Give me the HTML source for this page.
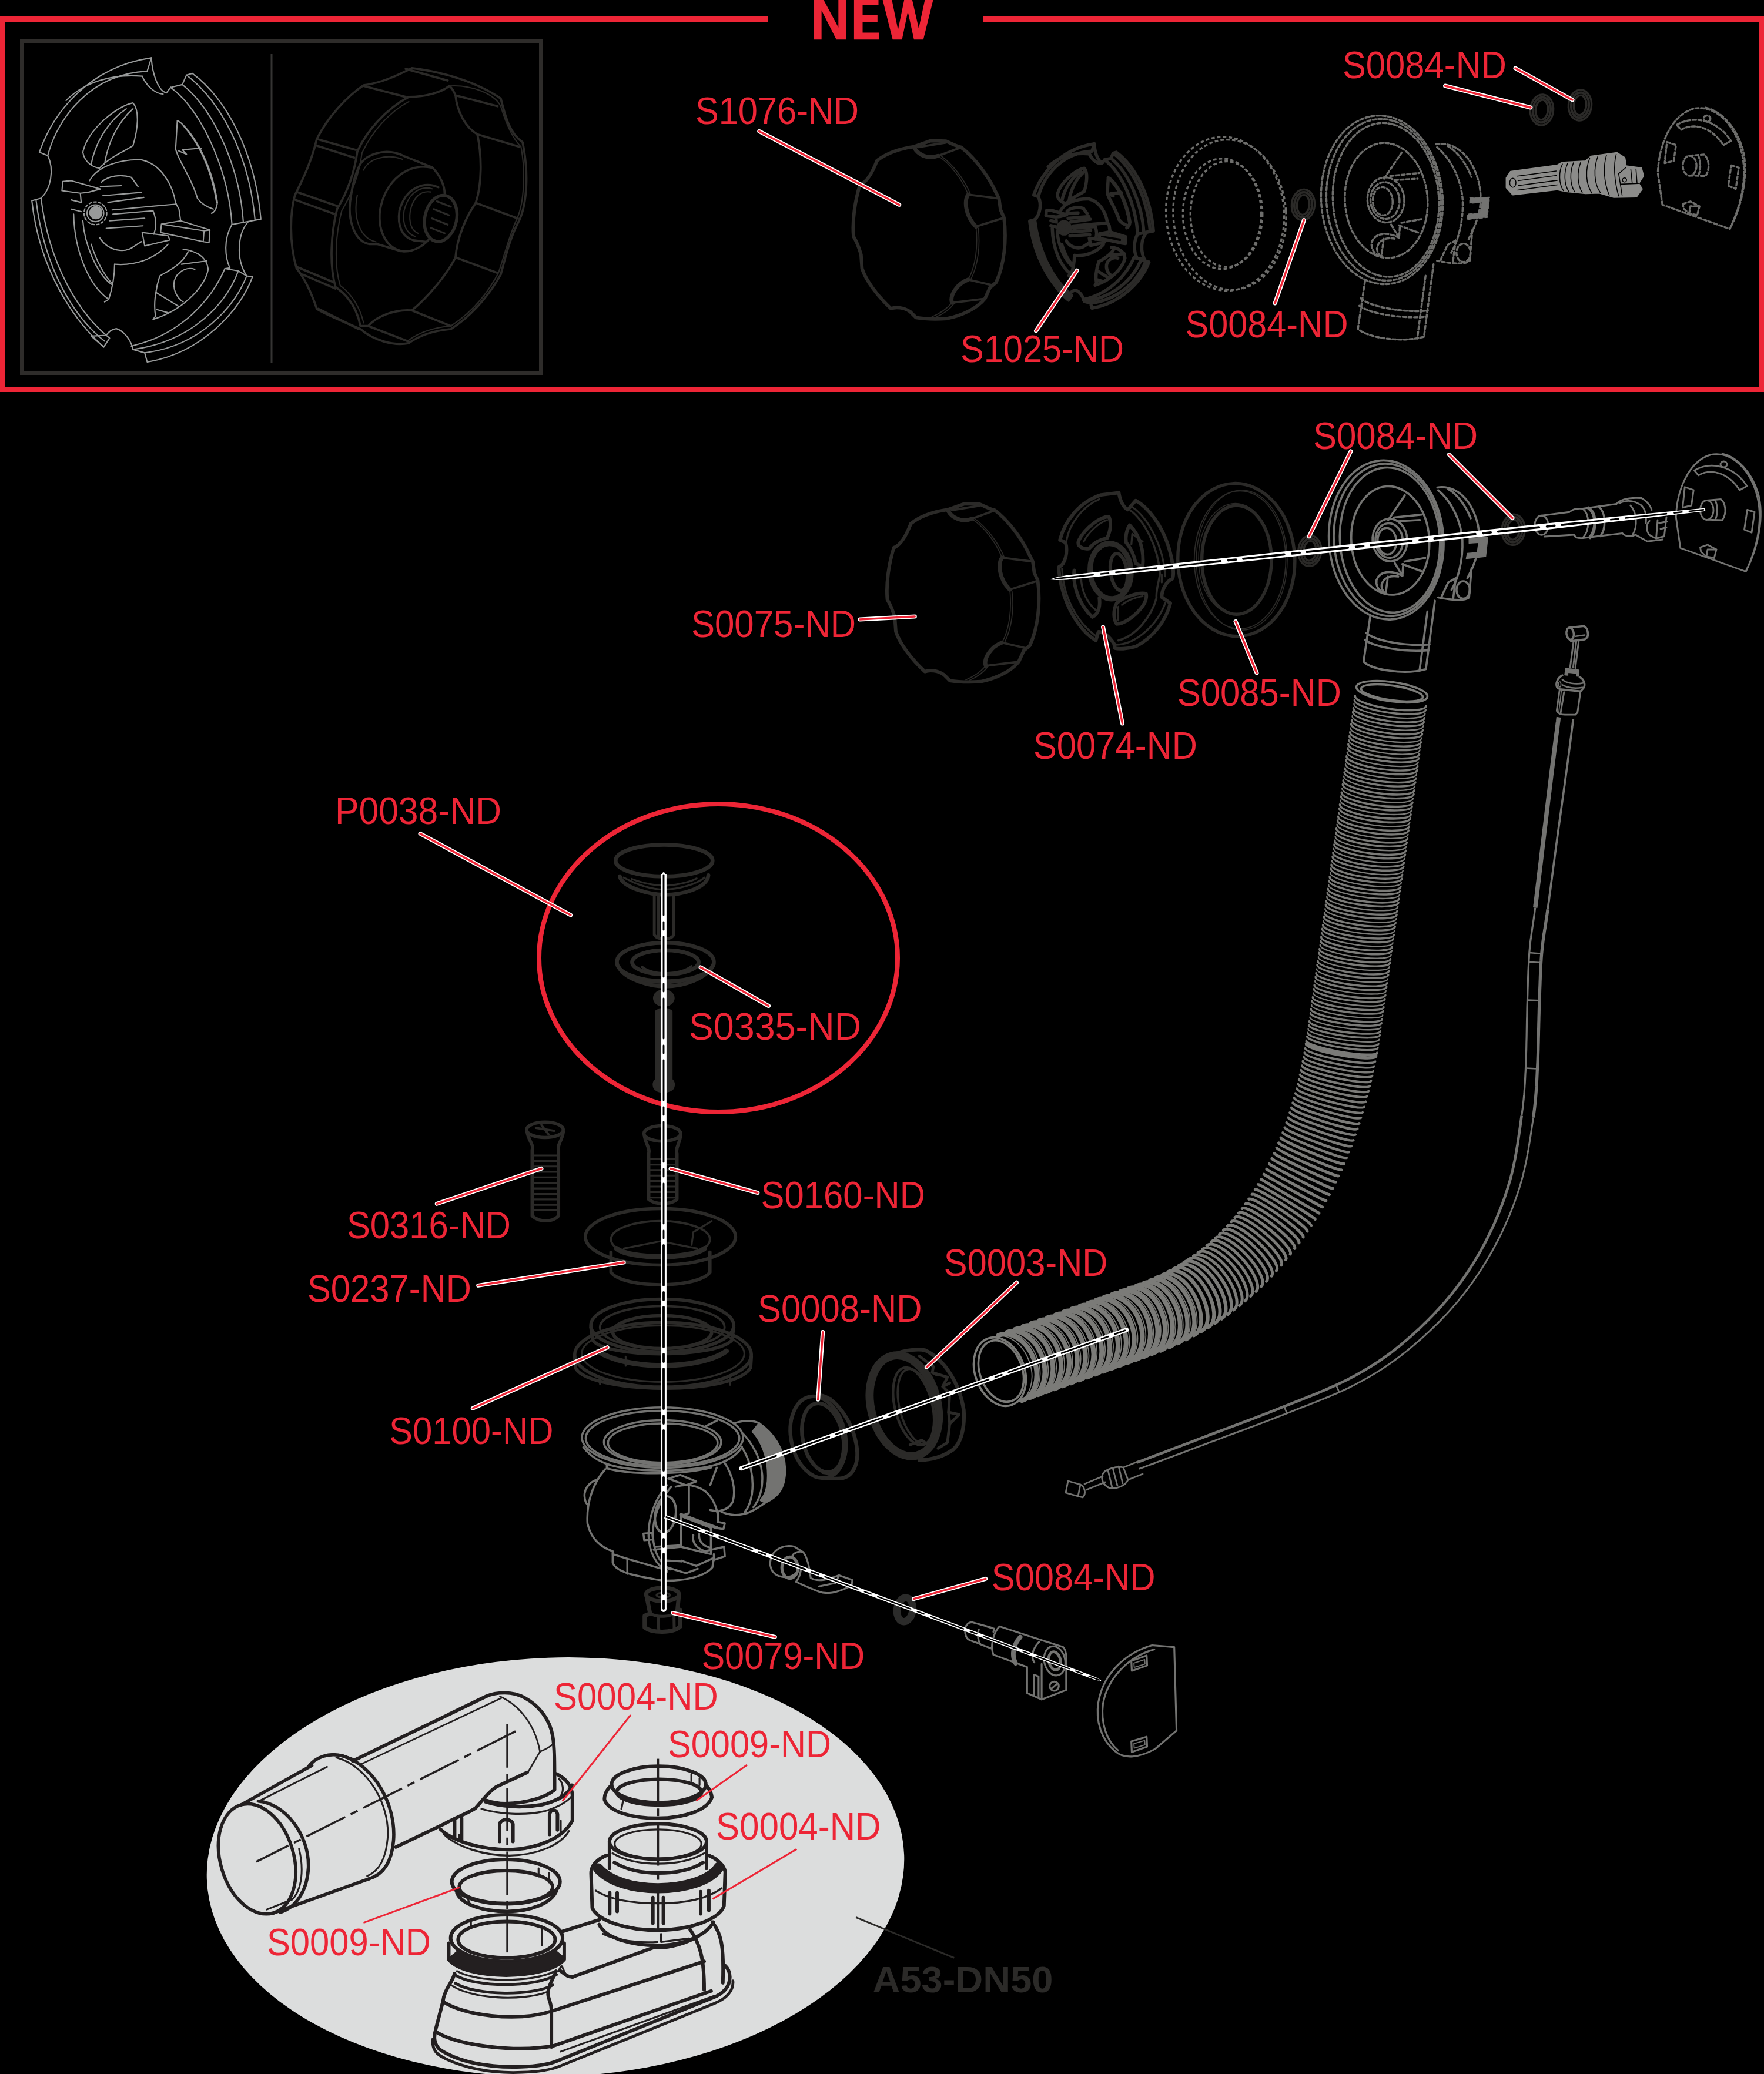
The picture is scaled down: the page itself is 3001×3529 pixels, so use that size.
<!DOCTYPE html>
<html><head><meta charset="utf-8"><title>Exploded view</title>
<style>
html,body{margin:0;padding:0;background:#000;}
body{width:3001px;height:3529px;overflow:hidden;}
svg{display:block;}
text{font-family:"Liberation Sans",sans-serif;}
.d{fill:none;stroke:#2d2d2d;stroke-width:5;stroke-linecap:round;stroke-linejoin:round;}
.d3{fill:none;stroke:#2d2d2d;stroke-width:3;stroke-linecap:round;stroke-linejoin:round;}
.g{fill:none;stroke:#7c7c7a;stroke-width:3;stroke-linecap:round;stroke-linejoin:round;}
.l{fill:none;stroke:#989a9a;stroke-width:2.2;stroke-linecap:round;stroke-linejoin:round;}
.k{fill:none;stroke:#231f20;stroke-width:4;stroke-linecap:round;stroke-linejoin:round;}
.lw{stroke:#fff;stroke-width:7;stroke-linecap:round;fill:none;}
.lr{stroke:#ed2536;stroke-width:3.4;stroke-linecap:round;fill:none;}
.t{fill:#ed2536;font-size:64px;}
.ovfill{fill:#737371;}
.sfill{fill:var(--sf);}
</style></head><body>
<svg width="3001" height="3529" viewBox="0 0 3001 3529">
<rect width="3001" height="3529" fill="#000"/>
<!-- 00_frame.svg -->
<g id="frame" fill="#ed2536">
<rect x="0" y="27.5" width="1307" height="10"/>
<rect x="1673" y="27.5" width="1328" height="10"/>
<rect x="0" y="27.5" width="9" height="639"/>
<rect x="2992" y="27.5" width="9" height="639"/>
<rect x="0" y="658" width="3001" height="9"/>
<g transform="translate(1370,0) scale(0.13038)"><path d="M108 515L108 -20L229.3 -20L432 358L432 -20L530 -20L530 515L405 515L212 135L212 515ZM636 -20L955 -20L955 65L748 65L748 198L942 198L942 285L748 285L748 425L965 425L965 515L636 515ZM1005 -20L1126 -20L1210 390L1294 -20L1391 -20L1480 370L1564 -20L1673 -20L1540 515L1418 515L1338 150L1262 515L1140 515Z"/></g>
</g>
<rect x="37.5" y="69.5" width="883" height="565" fill="none" stroke="#2e2c2a" stroke-width="7"/>
<line x1="462" y1="92" x2="462" y2="617" stroke="#353433" stroke-width="3"/>

<!-- 02_defs.svg -->
<defs>
<g id="knob" transform="scale(0.17007)" fill="none" stroke-linecap="round" stroke-linejoin="round">
<path stroke-width="34" d="M720 160L890 100L1040 105C1100 130 1150 160 1190 165C1300 250 1450 420 1540 620L1570 680L1585 790L1620 870C1650 1100 1620 1350 1540 1520L1480 1570L1430 1680C1350 1780 1200 1850 1050 1880C900 1890 800 1880 740 1870L680 1810C620 1770 540 1760 490 1780C350 1650 240 1500 200 1380L190 1240C170 1170 140 1100 115 1060C100 900 130 700 180 540C240 520 300 430 350 300C450 220 580 180 720 160Z"/>
<path stroke-width="40" d="M725 175C760 235 850 292 960 252M1262 640C1220 700 1230 850 1340 960M1262 1490C1150 1530 1075 1650 1100 1722"/>
<path stroke-width="22" d="M960 252L1190 168M1262 640L1572 680M1340 960L1620 872M1262 1490L1500 1545M1100 1722L1425 1682M760 165L1040 120"/>
<path stroke-width="10" d="M960 252C1080 330 1200 480 1262 640M985 248C1100 330 1220 480 1282 630M1340 960C1360 1150 1340 1350 1262 1490M1362 975C1385 1150 1360 1350 1285 1495M1100 1722C1050 1780 980 1830 900 1862M1125 1725C1080 1785 1010 1835 940 1865"/>
</g>
<g id="oring" fill="none">
<ellipse rx="15" ry="21.5" stroke="#2b2a28" stroke-width="12.5"/>
<ellipse rx="17.5" ry="24" stroke="#000" stroke-width="0.8"/>
<ellipse rx="13" ry="19" stroke="#000" stroke-width="0.8"/>
</g>
<g id="s85" transform="scale(0.17007)" fill="none">
<ellipse cx="725" cy="1015" rx="585" ry="765" stroke-width="32" transform="rotate(-2 725 1015)"/>
<ellipse cx="762" cy="1015" rx="458" ry="690" stroke-width="11"/>
<ellipse cx="780" cy="1018" rx="455" ry="700" stroke-width="9"/>
<ellipse cx="728" cy="1015" rx="348" ry="545" stroke-width="32"/>
<ellipse cx="715" cy="1005" rx="368" ry="555" stroke-width="9"/>
</g>
</defs>

<!-- 03_s1025def.svg -->
<defs>
<g id="s1025" fill="none" stroke-linecap="round" stroke-linejoin="round">
<path d="M130 700C210 470 420 190 800 135L775 215C440 230 240 490 180 720ZM290 390C400 280 560 230 745 245"/>
<path d="M800 135C805 230 840 330 890 345L915 312M745 245C770 300 820 350 870 352"/>
<path d="M915 312L985 295L1010 238L1045 228C1250 380 1420 700 1455 1100L1282 1132"/>
<path d="M1010 238C1220 400 1385 720 1420 1105M985 295C1180 450 1330 800 1350 1120M915 312C1100 450 1260 800 1282 1132"/>
<path d="M1380 1115C1320 1180 1300 1330 1370 1440L1405 1445M1282 1132C1230 1220 1240 1330 1270 1392L1240 1396L1320 1410L1370 1440"/>
<path d="M1405 1445C1330 1650 1100 1900 775 1955L760 1900L690 1880M1370 1440C1290 1640 1080 1860 760 1900M1320 1410C1250 1600 1050 1830 690 1880M1240 1396C1160 1580 980 1790 680 1860"/>
<path d="M690 1880C680 1830 640 1770 590 1755C560 1760 540 1780 530 1795L550 1812L515 1865L440 1800L530 1795"/>
<path d="M515 1865C330 1700 130 1400 85 990L140 975M110 985C160 1400 340 1690 520 1830M140 975C190 1380 370 1660 530 1795"/>
<path d="M140 975C200 920 220 800 180 720"/>
<path d="M690 405C600 420 420 560 390 700C400 760 450 790 490 795C560 720 650 690 690 660C720 560 730 450 690 405ZM650 440C560 500 470 620 440 770M690 440C600 520 540 640 520 770"/>
<path d="M955 510C1000 530 1150 700 1195 1000C1190 1040 1175 1060 1160 1065M955 510L945 680C960 750 1040 850 1075 975C1100 1010 1140 1030 1170 1040M960 690L1010 712L985 685L1100 675M990 540C1080 640 1160 800 1190 1000"/>
<path d="M990 1280C1060 1290 1130 1320 1140 1400C1120 1500 1000 1640 810 1700L825 1680C810 1600 830 1500 850 1440C880 1420 980 1380 1020 1295M935 1500C930 1430 1000 1380 1060 1400M935 1500C940 1560 980 1590 990 1595M830 1540L960 1620M830 1640L900 1660M980 1370L1130 1350"/>
<path d="M320 1040L380 1055M335 1070C340 1300 430 1500 545 1580L520 1595M545 1580C570 1500 580 1420 580 1370M390 1110C400 1250 470 1420 560 1490M440 1250C470 1350 520 1440 570 1490"/>
<path d="M430 870C480 780 620 740 740 745C860 770 930 900 945 1005L965 1040L975 1110M580 1370C700 1380 820 1340 900 1250M490 1210C540 1290 640 1310 700 1260L740 1235M500 880C540 840 620 830 680 850L720 905"/>
<path d="M270 875L320 870L495 920L420 940L375 945L265 930ZM375 945L380 1000L320 985"/>
<path d="M510 960L740 940M540 1000L755 970M565 1045L950 1010M570 1070L810 1050C830 1100 830 1150 815 1190M550 1110L760 1095M530 1155L750 1140M495 905L620 900"/>
<path d="M860 1130L975 1110L1150 1165L1145 1240L1110 1235L855 1180ZM1110 1235L1115 1170L1150 1165M1115 1170L860 1130M745 1180L900 1200L910 1225L760 1260Z"/>
<circle cx="465" cy="1065" r="68" stroke-dasharray="16 12"/>
<circle cx="465" cy="1065" r="50"/>
<circle cx="468" cy="1062" r="36" class="sfill"/>
</g>
</defs>
<g transform="translate(30,60) scale(0.28441)" stroke="#989a9a" stroke-width="7.6" style="--sf:#989a9a"><use href="#s1025"/></g>
<g transform="translate(1857,384.5) scale(0.54) translate(-249,-357) translate(30,60) scale(0.28441)" stroke="#2b2a28" stroke-width="36" style="--sf:#2b2a28"><use href="#s1025"/></g>

<!-- 04_bigknob.svg -->
<g transform="translate(470,80) scale(0.26518)" fill="none" stroke="#2b2a28" stroke-width="14" stroke-linecap="round" stroke-linejoin="round">
<path d="M870 135C1000 150 1250 200 1440 330C1470 450 1500 560 1580 610C1620 800 1610 1000 1560 1110C1500 1220 1470 1350 1440 1460C1350 1620 1230 1740 1120 1810C1000 1820 920 1850 850 1900C750 1920 620 1880 540 1810C430 1760 320 1720 260 1680C220 1560 180 1480 130 1420C80 1250 90 1050 120 950C180 830 230 720 260 590C330 450 450 320 560 245C680 230 780 180 870 135Z"/>
<path d="M850 320C960 320 1060 290 1110 250C1130 260 1140 290 1150 310C1160 420 1220 520 1290 560C1320 700 1320 880 1280 1000C1210 1100 1160 1230 1150 1350C1100 1450 980 1600 870 1690C760 1680 640 1730 590 1790L540 1790C520 1690 470 1600 380 1540C340 1400 350 1200 390 1040C450 940 500 820 520 670C580 540 700 400 850 320Z"/>
<path stroke-width="8" d="M850 350C720 420 610 550 550 680C530 830 480 950 420 1050C380 1200 370 1400 410 1530C490 1590 540 1680 560 1770M1110 250C1250 240 1400 300 1440 380C1470 480 1510 580 1570 640C1600 800 1590 1000 1545 1100C1490 1220 1460 1350 1425 1450C1340 1610 1230 1720 1120 1790C1000 1800 920 1830 850 1880"/>
<path d="M560 250L830 320M830 140L1100 215M1150 310L1420 380M1290 560L1560 640M1280 1000L1550 1100M1150 1350L1420 1450M870 1690L1120 1790M590 1790L850 1890M260 590L510 660M250 630L500 710M130 930L390 1020M120 980L370 1070M130 1410L370 1510M170 1460L380 1550M270 1680L530 1810"/>
<path d="M530 770C560 690 700 640 820 700L1000 772C1060 830 1080 900 1080 940M600 1265C500 1250 450 1100 480 950C490 880 510 810 530 770M600 1265L650 1265L800 1310"/>
<path stroke-width="8" d="M560 790C590 720 700 680 810 720M640 1250C540 1230 490 1100 520 950"/>
<path d="M1000 775C850 740 700 850 665 1050C650 1200 720 1300 820 1312C900 1312 960 1260 990 1222"/>
<path d="M1040 900C950 860 830 900 790 1050C775 1150 810 1220 880 1240L960 1250"/>
<path stroke-width="8" d="M1000 910C930 890 850 930 820 1050C805 1140 840 1200 890 1215M990 930C930 920 880 960 860 1050C848 1130 870 1180 910 1195"/>
<ellipse cx="1055" cy="1100" rx="102" ry="150" transform="rotate(12 1055 1100)" stroke-width="20"/>
<path stroke-width="12" d="M1010 1040L1110 1080M1000 1100L1100 1140M990 1160L1080 1195M1030 990L1120 1025"/>
</g>

<!-- 05_ellipse.svg -->
<ellipse cx="945" cy="3177" rx="593.5" ry="356.5" fill="#dcdddd" transform="rotate(-2 945 3177)"/>

<!-- 06_redcircle.svg -->
<ellipse cx="1222" cy="1630" rx="305" ry="262" fill="none" stroke="#ed2536" stroke-width="8"/>

<!-- 20_overflow.svg -->
<defs>
<g id="ovb" transform="translate(2220,760) scale(0.28345)" fill="none" stroke-linecap="round" stroke-linejoin="round">
<!-- back body -->
<path d="M795 245C860 235 930 260 985 340C1035 420 1060 520 1040 620C1025 690 1000 740 975 790"/>
<path d="M800 262C870 320 935 430 945 560C950 680 920 790 880 860"/>
<path d="M860 255C900 275 960 340 995 430"/>
<path d="M985 548L1098 545L1085 660L968 672L975 640L1040 635L1055 575L985 580Z" class="ovfill" stroke-width="5"/>
<path d="M1000 730L985 905C960 925 900 925 800 905"/>
<path d="M905 790L890 910"/>
<ellipse cx="950" cy="860" rx="40" ry="52"/>
<path d="M905 790L860 815L820 900"/>
<!-- neck -->
<path d="M392 1020L352 1290C400 1340 600 1372 726 1335L780 925"/>
<path d="M735 990L688 1345"/>
<path d="M368 1118C420 1165 600 1200 748 1188"/>
<path d="M360 1160C420 1205 600 1235 742 1222"/>
<!-- flange ellipses -->
<g transform="rotate(-4 490 560)">
<ellipse cx="488" cy="560" rx="344" ry="478" fill="#000"/>
<ellipse cx="498" cy="560" rx="324" ry="458"/>
<ellipse cx="510" cy="562" rx="300" ry="436"/>
<ellipse cx="512" cy="565" rx="234" ry="326"/>
<ellipse cx="510" cy="562" rx="104" ry="128"/>
<ellipse cx="505" cy="565" rx="82" ry="104"/>
<ellipse cx="492" cy="568" rx="56" ry="80"/>
</g>
<path d="M500 440L600 292M535 425L700 408M560 448L690 440"/>
<path d="M598 690L722 668M585 705L700 748"/>
<path d="M540 700L585 775L590 705"/>
<path d="M585 775C520 740 450 745 430 800C425 830 440 860 460 870"/>
<path d="M560 780C510 770 470 790 460 830C458 850 470 870 480 880"/>
<path d="M498 780L485 880"/>
</g>
<g id="plate" transform="translate(2560,760) scale(0.25)" fill="none" stroke-linecap="round" stroke-linejoin="round">
<!-- plate -->
<path d="M1195 690L1165 480C1170 300 1250 100 1400 55C1520 30 1640 120 1700 280C1760 440 1740 640 1640 850Z"/>
<path d="M1480 48C1580 70 1680 170 1725 320C1765 470 1730 680 1640 850"/>
<path d="M1290 162C1400 95 1560 130 1648 268L1598 296C1520 175 1400 145 1318 195Z"/>
<ellipse cx="1490" cy="120" rx="22" ry="20"/>
<path d="M1225 275L1285 295L1270 400L1210 415Z"/>
<path d="M1650 430L1700 445L1680 585L1630 565Z"/>
<path d="M1330 685L1380 668L1440 700L1425 758L1372 748L1335 715Z"/>
<path d="M1372 748L1380 700L1440 700"/>
<ellipse cx="1375" cy="432" rx="45" ry="66"/>
<path d="M1375 366L1470 358C1500 380 1515 450 1480 500L1385 497"/>
<path d="M1430 362C1450 400 1450 460 1432 498"/>
</g>
<g id="shaft" transform="translate(2560,760) scale(0.25)" fill="none" stroke-linecap="round" stroke-linejoin="round">
<!-- shaft -->
<ellipse cx="250" cy="535" rx="46" ry="66"/>
<path d="M245 470L440 445M270 612L470 600"/>
<path d="M440 445C470 420 500 420 530 422L760 390"/>
<path d="M470 600C480 620 500 625 530 622L800 590"/>
<path d="M530 422C580 460 580 570 530 622" />
<path d="M570 418C625 455 625 565 580 618" stroke-width="22"/>
<path d="M640 408C690 450 690 560 650 610" stroke-width="14"/>
<path d="M760 390C790 355 850 345 930 350C965 370 990 400 1000 430"/>
<path d="M780 385C830 360 880 365 930 400C960 430 965 470 960 520"/>
<path d="M800 590C830 620 870 610 890 600L970 645L1075 632"/>
<path d="M855 400C900 450 905 540 870 600"/>
<path d="M985 505C960 530 960 580 990 605L1030 625L1085 610L1100 480"/>
<path d="M1040 500L1030 625M1060 560L1100 550M1050 520L1105 510" />
</g>
</defs>
<g stroke="#737371" stroke-width="12.8" fill="none"><use href="#ovb"/></g>
<g stroke="#747472" stroke-width="11.5" fill="none"><use href="#plate"/><use href="#shaft"/></g>
<g stroke="#6e6e6c" stroke-width="11.5" fill="none" stroke-dasharray="19 13" stroke-linecap="butt"><use href="#ovb" transform="translate(2351,340) scale(1.06) translate(-2358.3,-918.7)"/></g>
<g stroke="#6e6e6c" stroke-width="13" fill="none" stroke-dasharray="22 15" stroke-linecap="butt"><use href="#plate" transform="translate(2893.8,286.6) scale(1.03) translate(-2922.5,-872.5)"/></g>
<g transform="translate(1960,180) scale(0.5901)" stroke-linejoin="round" stroke-linecap="round">
<path d="M1022 208L1034 190L1168 172L1182 164L1250 160L1266 146L1340 136L1362 150L1366 174L1410 180L1416 202L1402 224L1412 240L1396 262L1330 263L1290 251L1250 252L1190 246L1168 241L1040 256L1022 236Z" fill="#8c8c8a" stroke="#8c8c8a" stroke-width="5"/>
<g fill="none" stroke="#000" stroke-width="2.6">
<ellipse cx="1040" cy="222" rx="9" ry="13"/>
<path d="M1052 203L1165 188M1055 216L1166 201M1056 230L1168 215M1054 243L1168 228"/>
<path d="M1183 168C1172 190 1172 225 1186 245M1198 166C1187 190 1187 225 1201 247M1215 164C1204 190 1204 225 1218 248M1236 162C1225 190 1225 225 1240 250M1262 150C1248 185 1250 225 1268 252M1285 146C1272 180 1274 225 1292 250M1310 142C1300 175 1302 220 1318 258M1338 140C1330 170 1332 215 1345 260"/>
<path d="M1366 178L1345 196L1350 226L1402 224M1350 226L1355 258M1380 182L1384 222M1395 182L1398 222"/>
<circle cx="1362" cy="214" r="6"/>
</g>
</g>

<!-- 30_hose.svg -->
<g fill="none" stroke="#7b7b78" stroke-linecap="round">
<path stroke-width="1.8" d="M2023.2 2276.2C2039.5 2268.2 2041.1 2238.3 2026.9 2209.6C2012.7 2180.8 1988.0 2164.1 1971.7 2172.1M2009.7 2282.8C2026.8 2274.9 2029.9 2244.9 2016.5 2215.7C2003.1 2186.4 1978.3 2169.1 1961.2 2177.0M1995.5 2289.2C2013.6 2281.6 2018.1 2251.3 2005.6 2221.6C1993.1 2191.9 1968.3 2174.0 1950.1 2181.7M1980.7 2295.3C1999.8 2288.0 2005.8 2257.6 1994.2 2227.4C1982.6 2197.3 1957.7 2178.8 1938.6 2186.2M1965.9 2301.0C1985.9 2293.8 1993.2 2263.2 1982.2 2232.8C1971.3 2202.3 1946.2 2183.4 1926.2 2190.6M1952.1 2306.1C1972.9 2298.6 1980.8 2267.8 1969.8 2237.2C1958.8 2206.7 1933.0 2188.0 1912.3 2195.5M1938.3 2311.2C1959.8 2303.4 1968.4 2272.3 1957.4 2241.7C1946.3 2211.1 1919.9 2192.6 1898.4 2200.3M1924.5 2316.2C1946.6 2308.3 1955.5 2277.0 1944.5 2246.3C1933.5 2215.7 1906.6 2197.3 1884.5 2205.2M1910.7 2321.2C1932.7 2313.3 1941.7 2282.0 1930.7 2251.3C1919.6 2220.7 1892.8 2202.3 1870.7 2210.2M1896.8 2326.2C1918.9 2318.3 1927.9 2287.0 1916.8 2256.3C1905.8 2225.6 1878.9 2207.2 1856.9 2215.2M1883.0 2331.2C1905.1 2323.2 1914.0 2291.9 1903.0 2261.3C1892.0 2230.6 1865.1 2212.2 1843.0 2220.2M1869.2 2336.2C1891.3 2328.2 1900.2 2296.9 1889.2 2266.3C1878.1 2235.6 1851.3 2217.2 1829.2 2225.1M1855.3 2341.1C1877.4 2333.2 1886.4 2301.9 1875.3 2271.2C1864.3 2240.6 1837.5 2222.2 1815.4 2230.1M1841.5 2346.1C1863.6 2338.2 1872.5 2306.9 1861.5 2276.2C1850.5 2245.6 1823.6 2227.1 1801.5 2235.1M1827.7 2351.1C1849.8 2343.2 1858.7 2311.9 1847.7 2281.2C1836.6 2250.5 1809.8 2232.1 1787.7 2240.1M1813.9 2356.1C1835.9 2348.1 1844.9 2316.8 1833.8 2286.2C1822.8 2255.5 1796.0 2237.1 1773.9 2245.1M1800.0 2361.1C1822.1 2353.1 1831.0 2321.8 1820.0 2291.2C1809.0 2260.5 1782.1 2242.1 1760.1 2250.0M1786.2 2366.0C1808.3 2358.1 1817.2 2326.8 1806.2 2296.1C1795.1 2265.5 1768.3 2247.1 1746.2 2255.0M1772.4 2371.0C1794.4 2363.1 1803.4 2331.8 1792.3 2301.1C1781.3 2270.5 1754.5 2252.0 1732.4 2260.0M1758.5 2376.0C1780.6 2368.0 1789.6 2336.8 1778.5 2306.1C1767.5 2275.4 1740.6 2257.0 1718.6 2265.0M1744.7 2381.0C1766.8 2373.0 1775.7 2341.7 1764.7 2311.1C1753.6 2280.4 1726.8 2262.0 1704.7 2270.0M1730.9 2386.0C1752.9 2378.0 1761.9 2346.7 1750.9 2316.1C1739.8 2285.4 1713.0 2267.0 1690.9 2274.9"/>
<path stroke-width="2.4" d="M2424.3 1214.8C2423.2 1222.1 2395.4 1224.3 2362.0 1219.6C2328.6 1214.9 2302.4 1205.2 2303.5 1197.8M2421.4 1235.3C2420.4 1242.6 2392.5 1244.8 2359.1 1240.1C2325.8 1235.4 2299.6 1225.6 2300.6 1218.3M2418.5 1255.8C2417.5 1263.1 2389.6 1265.3 2356.2 1260.6C2322.9 1255.9 2296.7 1246.1 2297.7 1238.8M2415.6 1276.3C2414.6 1283.6 2386.7 1285.8 2353.4 1281.1C2320.0 1276.4 2293.8 1266.6 2294.8 1259.3M2412.7 1296.8C2411.7 1304.1 2383.8 1306.3 2350.5 1301.6C2317.1 1296.9 2290.9 1287.1 2291.9 1279.8M2409.9 1317.3C2408.8 1324.6 2381.0 1326.7 2347.6 1322.0C2314.2 1317.4 2288.0 1307.6 2289.1 1300.3M2407.0 1337.8C2405.9 1345.1 2378.1 1347.2 2344.7 1342.5C2311.3 1337.8 2285.1 1328.1 2286.2 1320.8M2404.1 1358.3C2403.1 1365.6 2375.2 1367.7 2341.8 1363.0C2308.5 1358.3 2282.3 1348.6 2283.3 1341.3M2401.2 1378.8C2400.2 1386.1 2372.3 1388.1 2339.0 1383.4C2305.6 1378.7 2279.4 1369.1 2280.4 1361.8M2398.3 1399.3C2397.3 1406.5 2369.4 1408.6 2336.1 1403.9C2302.7 1399.2 2276.5 1389.5 2277.5 1382.3M2395.4 1419.8C2394.4 1427.0 2366.6 1429.0 2333.2 1424.3C2299.8 1419.6 2273.6 1410.0 2274.6 1402.8M2392.6 1440.3C2391.5 1447.4 2363.7 1449.4 2330.3 1444.8C2297.0 1440.1 2270.7 1430.5 2271.7 1423.3M2389.7 1460.8C2388.7 1467.9 2360.8 1469.9 2327.5 1465.2C2294.1 1460.5 2267.9 1450.9 2268.9 1443.8M2386.8 1481.3C2385.8 1488.3 2357.9 1490.3 2324.6 1485.6C2291.2 1480.9 2265.0 1471.3 2266.0 1464.3M2383.9 1501.8C2382.9 1508.8 2355.1 1510.6 2321.7 1506.0C2288.4 1501.3 2262.1 1491.8 2263.1 1484.8M2381.0 1522.3C2380.0 1529.2 2352.2 1531.0 2318.9 1526.3C2285.5 1521.6 2259.2 1512.2 2260.2 1505.3M2378.1 1542.8C2377.2 1549.6 2349.3 1551.4 2316.0 1546.7C2282.6 1542.0 2256.4 1532.6 2257.3 1525.8M2375.3 1563.3C2374.3 1570.0 2346.5 1571.7 2313.1 1567.0C2279.8 1562.3 2253.5 1553.0 2254.4 1546.3M2372.4 1583.8C2371.4 1590.4 2343.6 1592.0 2310.3 1587.3C2276.9 1582.6 2250.6 1573.4 2251.6 1566.8M2369.5 1604.3C2368.6 1610.8 2340.8 1612.3 2307.4 1607.6C2274.1 1602.9 2247.8 1593.8 2248.7 1587.3M2366.6 1624.8C2365.7 1631.2 2337.9 1632.6 2304.6 1627.9C2271.2 1623.2 2244.9 1614.2 2245.8 1607.8M2363.7 1645.3C2362.8 1651.6 2335.1 1652.8 2301.7 1648.1C2268.3 1643.5 2242.0 1634.6 2242.9 1628.3M2360.8 1665.8C2360.0 1671.9 2332.2 1673.1 2298.9 1668.4C2265.5 1663.7 2239.2 1654.9 2240.0 1648.8M2357.9 1686.3C2357.1 1692.2 2329.4 1693.3 2296.0 1688.6C2262.7 1683.9 2236.3 1675.2 2237.1 1669.3M2355.1 1706.8C2354.2 1712.6 2326.5 1713.5 2293.2 1708.8C2259.8 1704.1 2233.4 1695.6 2234.3 1689.8M2352.2 1727.3C2351.4 1732.9 2323.7 1733.6 2290.3 1728.9C2257.0 1724.2 2230.6 1715.9 2231.4 1710.3M2349.3 1747.8C2348.5 1753.2 2320.9 1753.7 2287.5 1749.1C2254.2 1744.4 2227.7 1736.2 2228.5 1730.8M2346.3 1768.8C2345.5 1774.0 2317.9 1774.1 2284.5 1769.1C2251.2 1764.1 2224.9 1755.9 2225.6 1750.7M2342.7 1790.4C2341.8 1795.4 2314.3 1794.8 2281.2 1789.1C2248.0 1783.4 2221.8 1774.9 2222.7 1769.9"/>
<path stroke-width="3.4" d="M2426.2 1201.3C2425.1 1208.7 2397.3 1210.8 2363.9 1206.1C2330.5 1201.4 2304.3 1191.7 2305.4 1184.3M2425.3 1207.9C2424.2 1215.2 2396.3 1217.4 2363.0 1212.7C2329.6 1208.0 2303.4 1198.2 2304.4 1190.9M2423.3 1221.8C2422.3 1229.2 2394.4 1231.3 2361.0 1226.6C2327.7 1221.9 2301.4 1212.2 2302.5 1204.8M2422.4 1228.4C2421.3 1235.7 2393.5 1237.9 2360.1 1233.2C2326.7 1228.5 2300.5 1218.7 2301.6 1211.4M2420.4 1242.3C2419.4 1249.7 2391.5 1251.8 2358.1 1247.1C2324.8 1242.4 2298.6 1232.7 2299.6 1225.3M2419.5 1248.9C2418.5 1256.2 2390.6 1258.4 2357.2 1253.7C2323.9 1249.0 2297.6 1239.2 2298.7 1231.9M2417.5 1262.8C2416.5 1270.2 2388.6 1272.3 2355.3 1267.6C2321.9 1262.9 2295.7 1253.2 2296.7 1245.8M2416.6 1269.4C2415.6 1276.7 2387.7 1278.8 2354.3 1274.2C2321.0 1269.5 2294.8 1259.7 2295.8 1252.4M2414.6 1283.3C2413.6 1290.7 2385.7 1292.8 2352.4 1288.1C2319.0 1283.4 2292.8 1273.7 2293.8 1266.3M2413.7 1289.9C2412.7 1297.2 2384.8 1299.3 2351.4 1294.6C2318.1 1289.9 2291.9 1280.2 2292.9 1272.9M2411.8 1303.8C2410.7 1311.2 2382.8 1313.3 2349.5 1308.6C2316.1 1303.9 2289.9 1294.2 2290.9 1286.8M2410.8 1310.4C2409.8 1317.7 2381.9 1319.8 2348.6 1315.1C2315.2 1310.4 2289.0 1300.7 2290.0 1293.4M2408.9 1324.3C2407.8 1331.6 2380.0 1333.8 2346.6 1329.1C2313.2 1324.4 2287.0 1314.6 2288.1 1307.3M2408.0 1330.9C2406.9 1338.2 2379.0 1340.3 2345.7 1335.6C2312.3 1330.9 2286.1 1321.2 2287.1 1313.9M2406.0 1344.8C2405.0 1352.1 2377.1 1354.2 2343.7 1349.5C2310.4 1344.8 2284.2 1335.1 2285.2 1327.8M2405.1 1351.4C2404.0 1358.7 2376.2 1360.8 2342.8 1356.1C2309.4 1351.4 2283.2 1341.7 2284.3 1334.4M2403.1 1365.3C2402.1 1372.6 2374.2 1374.7 2340.8 1370.0C2307.5 1365.3 2281.3 1355.6 2282.3 1348.3M2402.2 1371.9C2401.2 1379.1 2373.3 1381.2 2339.9 1376.5C2306.6 1371.8 2280.4 1362.1 2281.4 1354.9M2400.2 1385.8C2399.2 1393.1 2371.3 1395.2 2338.0 1390.5C2304.6 1385.8 2278.4 1376.1 2279.4 1368.8M2399.3 1392.4C2398.3 1399.6 2370.4 1401.7 2337.0 1397.0C2303.7 1392.3 2277.5 1382.6 2278.5 1375.4M2397.3 1406.3C2396.3 1413.5 2368.5 1415.6 2335.1 1410.9C2301.7 1406.2 2275.5 1396.5 2276.5 1389.3M2396.4 1412.9C2395.4 1420.1 2367.5 1422.1 2334.2 1417.4C2300.8 1412.7 2274.6 1403.1 2275.6 1395.9M2394.5 1426.8C2393.4 1434.0 2365.6 1436.0 2332.2 1431.3C2298.9 1426.6 2272.6 1417.0 2273.6 1409.8M2393.5 1433.4C2392.5 1440.5 2364.7 1442.5 2331.3 1437.8C2297.9 1433.2 2271.7 1423.5 2272.7 1416.4M2391.6 1447.3C2390.6 1454.5 2362.7 1456.5 2329.3 1451.8C2296.0 1447.1 2269.8 1437.5 2270.8 1430.3M2390.6 1453.9C2389.6 1461.0 2361.8 1463.0 2328.4 1458.3C2295.1 1453.6 2268.8 1444.0 2269.8 1436.9M2388.7 1467.8C2387.7 1474.9 2359.8 1476.9 2326.5 1472.2C2293.1 1467.5 2266.9 1457.9 2267.9 1450.8M2387.8 1474.4C2386.8 1481.4 2358.9 1483.4 2325.6 1478.7C2292.2 1474.0 2266.0 1464.4 2267.0 1457.4M2385.8 1488.3C2384.8 1495.4 2357.0 1497.3 2323.6 1492.6C2290.2 1487.9 2264.0 1478.4 2265.0 1471.3M2384.9 1494.9C2383.9 1501.9 2356.0 1503.8 2322.7 1499.1C2289.3 1494.4 2263.1 1484.9 2264.1 1477.9M2382.9 1508.8C2381.9 1515.8 2354.1 1517.6 2320.7 1512.9C2287.4 1508.2 2261.1 1498.8 2262.1 1491.8M2382.0 1515.4C2381.0 1522.3 2353.2 1524.1 2319.8 1519.4C2286.5 1514.7 2260.2 1505.3 2261.2 1498.4M2380.0 1529.3C2379.1 1536.2 2351.2 1538.0 2317.9 1533.3C2284.5 1528.6 2258.2 1519.2 2259.2 1512.3M2379.1 1535.8C2378.1 1542.7 2350.3 1544.5 2317.0 1539.8C2283.6 1535.1 2257.3 1525.7 2258.3 1518.9M2377.1 1549.8C2376.2 1556.6 2348.4 1558.3 2315.0 1553.6C2281.6 1549.0 2255.4 1539.6 2256.3 1532.8M2376.2 1556.3C2375.3 1563.1 2347.5 1564.8 2314.1 1560.1C2280.7 1555.4 2254.5 1546.1 2255.4 1539.3M2374.3 1570.3C2373.3 1577.0 2345.5 1578.7 2312.1 1574.0C2278.8 1569.3 2252.5 1560.0 2253.5 1553.3M2373.3 1576.8C2372.4 1583.5 2344.6 1585.1 2311.2 1580.5C2277.9 1575.8 2251.6 1566.5 2252.5 1559.8M2371.4 1590.8C2370.4 1597.4 2342.6 1599.0 2309.3 1594.3C2275.9 1589.6 2249.6 1580.4 2250.6 1573.8M2370.5 1597.3C2369.5 1603.9 2341.7 1605.5 2308.4 1600.8C2275.0 1596.1 2248.7 1586.9 2249.6 1580.3M2368.5 1611.3C2367.6 1617.8 2339.8 1619.3 2306.4 1614.6C2273.1 1609.9 2246.8 1600.8 2247.7 1594.3M2367.6 1617.8C2366.7 1624.3 2338.9 1625.7 2305.5 1621.0C2272.2 1616.3 2245.9 1607.3 2246.8 1600.8M2365.6 1631.8C2364.7 1638.2 2336.9 1639.5 2303.6 1634.8C2270.2 1630.1 2243.9 1621.2 2244.8 1614.8M2364.7 1638.3C2363.8 1644.7 2336.0 1646.0 2302.7 1641.3C2269.3 1636.6 2243.0 1627.7 2243.9 1621.3M2362.7 1652.3C2361.8 1658.5 2334.1 1659.8 2300.7 1655.1C2267.4 1650.4 2241.0 1641.5 2241.9 1635.3M2361.8 1658.8C2360.9 1665.0 2333.2 1666.2 2299.8 1661.5C2266.5 1656.8 2240.1 1648.0 2241.0 1641.8M2359.8 1672.8C2359.0 1678.9 2331.2 1680.0 2297.9 1675.3C2264.5 1670.6 2238.2 1661.9 2239.0 1655.8M2358.9 1679.3C2358.1 1685.4 2330.3 1686.4 2297.0 1681.8C2263.6 1677.1 2237.3 1668.4 2238.1 1662.3M2357.0 1693.3C2356.1 1699.2 2328.4 1700.2 2295.0 1695.5C2261.7 1690.8 2235.3 1682.2 2236.1 1676.3M2356.0 1699.8C2355.2 1705.7 2327.5 1706.6 2294.1 1701.9C2260.8 1697.3 2234.4 1688.7 2235.2 1682.8M2354.1 1713.8C2353.3 1719.5 2325.6 1720.4 2292.2 1715.7C2258.8 1711.0 2232.5 1702.5 2233.3 1696.8M2353.2 1720.3C2352.4 1726.0 2324.7 1726.8 2291.3 1722.1C2257.9 1717.4 2231.5 1709.0 2232.3 1703.3M2351.2 1734.3C2350.4 1739.8 2322.7 1740.5 2289.4 1735.8C2256.0 1731.1 2229.6 1722.8 2230.4 1717.3M2350.3 1740.8C2349.5 1746.3 2321.8 1746.9 2288.5 1742.2C2255.1 1737.6 2228.7 1729.3 2229.5 1723.8M2348.3 1754.8C2347.6 1760.1 2319.9 1760.6 2286.5 1756.0C2253.2 1751.3 2226.7 1743.1 2227.5 1737.8M2347.4 1761.5C2346.6 1766.7 2319.0 1767.1 2285.6 1762.4C2252.3 1757.6 2225.8 1749.4 2226.6 1744.2M2345.1 1776.2C2344.3 1781.3 2316.7 1781.2 2283.4 1776.0C2250.1 1770.8 2223.8 1762.4 2224.6 1757.3M2344.0 1783.1C2343.2 1788.1 2315.6 1787.8 2282.4 1782.4C2249.1 1776.9 2222.8 1768.5 2223.7 1763.5"/>
<path stroke-width="3.5" d="M2341.3 1797.8C2340.4 1802.7 2312.9 1801.8 2279.9 1795.9C2246.9 1790.0 2220.8 1781.3 2221.6 1776.5M2339.7 1805.9C2338.8 1810.6 2311.4 1809.5 2278.5 1803.3C2245.6 1797.2 2219.6 1788.4 2220.5 1783.7M2338.0 1814.1C2337.1 1818.7 2309.8 1817.2 2277.0 1810.8C2244.2 1804.5 2218.3 1795.6 2219.2 1791.0M2336.3 1822.3C2335.3 1826.8 2308.1 1825.1 2275.4 1818.4C2242.7 1811.8 2217.0 1802.8 2217.9 1798.3"/>
<path stroke-width="4.0" d="M2334.4 1830.7C2333.5 1835.1 2306.3 1833.0 2273.7 1826.1C2241.2 1819.2 2215.5 1810.1 2216.4 1805.7M2332.4 1839.3C2331.5 1843.5 2304.4 1841.1 2272.0 1833.9C2239.5 1826.7 2214.0 1817.5 2214.9 1813.2M2330.3 1847.9C2329.4 1852.0 2302.4 1849.3 2270.1 1841.8C2237.8 1834.4 2212.4 1825.0 2213.3 1820.9M2328.2 1856.6C2327.2 1860.6 2300.3 1857.5 2268.2 1849.8C2236.0 1842.0 2210.7 1832.5 2211.7 1828.5M2325.8 1865.4C2324.9 1869.3 2298.1 1865.9 2266.1 1857.8C2234.1 1849.8 2208.9 1840.2 2209.9 1836.3M2323.4 1874.4C2322.4 1878.1 2295.8 1874.3 2264.0 1866.0C2232.1 1857.7 2207.0 1847.9 2208.0 1844.2M2320.8 1883.5C2319.9 1887.0 2293.4 1882.9 2261.7 1874.3C2230.0 1865.6 2205.0 1855.7 2206.0 1852.2M2318.1 1892.7C2317.2 1896.1 2290.8 1891.6 2259.3 1882.6C2227.7 1873.6 2202.9 1863.6 2203.9 1860.2M2315.3 1902.0C2314.3 1905.2 2288.1 1900.3 2256.8 1891.0C2225.4 1881.7 2200.7 1871.6 2201.7 1868.3M2342.3 1792.4C2341.5 1797.2 2314.0 1796.6 2280.8 1790.9C2247.7 1785.1 2221.6 1776.5 2222.4 1771.6M2341.5 1796.5C2340.7 1801.3 2313.2 1800.5 2280.1 1794.7C2247.1 1788.9 2221.0 1780.2 2221.8 1775.4"/>
<path stroke-width="4.5" d="M2312.3 1911.4C2311.4 1914.5 2285.3 1909.2 2254.1 1899.5C2222.9 1889.9 2198.4 1879.6 2199.4 1876.5M2309.2 1920.9C2308.2 1923.9 2282.3 1918.1 2251.3 1908.2C2220.3 1898.2 2196.0 1887.7 2196.9 1884.8M2305.8 1930.6C2304.9 1933.3 2279.2 1927.2 2248.4 1916.8C2217.6 1906.5 2193.4 1895.9 2194.3 1893.2M2302.3 1940.3C2301.4 1942.9 2275.9 1936.3 2245.3 1925.6C2214.7 1914.9 2190.7 1904.2 2191.6 1901.6M2298.7 1950.2C2297.8 1952.6 2272.5 1945.6 2242.1 1934.5C2211.7 1923.4 2187.8 1912.5 2188.7 1910.1M2294.8 1960.2C2294.0 1962.4 2268.8 1954.9 2238.7 1943.4C2208.6 1932.0 2184.8 1920.9 2185.6 1918.7M2290.7 1970.3C2289.9 1972.3 2265.0 1964.3 2235.1 1952.4C2205.2 1940.6 2181.6 1929.3 2182.4 1927.3"/>
<path stroke-width="5.0" d="M2286.4 1980.4C2285.7 1982.2 2261.0 1973.8 2231.4 1961.5C2201.8 1949.3 2178.3 1937.9 2179.1 1936.0M2281.9 1990.7C2281.2 1992.3 2256.9 1983.4 2227.5 1970.7C2198.1 1958.0 2174.8 1946.4 2175.5 1944.8M2277.2 2001.1C2276.6 2002.5 2252.5 1993.0 2223.4 1979.9C2194.3 1966.8 2171.2 1955.0 2171.8 1953.6M2272.2 2011.5C2271.7 2012.7 2247.9 2002.7 2219.0 1989.2C2190.2 1975.7 2167.3 1963.7 2167.9 1962.5M2267.0 2022.1C2266.5 2023.1 2243.0 2012.5 2214.5 1998.5C2186.0 1984.5 2163.3 1972.4 2163.8 1971.4M2261.5 2032.7C2261.1 2033.5 2238.0 2022.4 2209.8 2007.9C2181.6 1993.5 2159.0 1981.1 2159.4 1980.4M2255.8 2043.3C2255.5 2043.9 2232.7 2032.2 2204.8 2017.3C2177.0 2002.4 2154.6 1989.8 2154.9 1989.3M2249.9 2053.8C2249.7 2054.1 2227.3 2041.9 2199.8 2026.5C2172.3 2011.1 2150.1 1998.4 2150.3 1998.1M2243.8 2064.2C2243.7 2064.3 2221.7 2051.5 2194.5 2035.7C2167.4 2019.8 2145.4 2006.8 2145.5 2006.7M2237.4 2074.5C2237.9 2073.8 2216.5 2060.0 2189.7 2043.7C2163.0 2027.3 2141.0 2014.6 2140.5 2015.3M2230.9 2084.7C2231.9 2083.1 2211.4 2068.2 2185.0 2051.3C2158.6 2034.5 2136.4 2022.2 2135.4 2023.8M2224.1 2094.8C2225.7 2092.4 2205.9 2076.5 2180.0 2059.2C2154.0 2041.9 2131.7 2029.7 2130.2 2032.1M2217.2 2104.8C2219.3 2101.7 2200.3 2084.8 2174.8 2067.0C2149.3 2049.2 2126.8 2037.3 2124.7 2040.3M2210.0 2114.6C2212.6 2111.0 2194.4 2093.2 2169.4 2074.9C2144.3 2056.6 2121.8 2044.8 2119.1 2048.4M2202.6 2124.3C2205.8 2120.1 2188.4 2101.5 2163.8 2082.7C2139.2 2064.0 2116.6 2052.2 2113.4 2056.4M2195.1 2133.9C2198.8 2129.2 2182.3 2109.8 2158.0 2090.5C2133.8 2071.1 2111.1 2059.3 2107.4 2064.1M2187.4 2143.5C2191.8 2138.3 2176.0 2118.0 2152.1 2098.1C2128.3 2078.2 2105.5 2066.3 2101.1 2071.5M2179.6 2152.9C2184.5 2147.2 2169.5 2126.1 2146.1 2105.7C2122.6 2085.2 2099.6 2073.2 2094.7 2078.9M2171.5 2162.1C2177.0 2156.1 2162.8 2134.1 2139.8 2113.1C2116.8 2092.1 2093.7 2080.0 2088.2 2086.1M2163.1 2171.2C2169.3 2164.8 2156.0 2142.0 2133.5 2120.5C2110.9 2098.9 2087.6 2086.6 2081.5 2093.1M2154.6 2180.1C2161.4 2173.3 2149.0 2149.9 2126.9 2127.7C2104.8 2105.6 2081.4 2093.1 2074.6 2099.9M2145.8 2188.8C2153.3 2181.7 2141.8 2157.5 2120.2 2134.8C2098.6 2112.1 2075.1 2099.5 2067.6 2106.6M2136.8 2197.3C2145.0 2189.9 2134.5 2165.1 2113.4 2141.8C2092.3 2118.6 2068.6 2105.7 2060.5 2113.0M2127.6 2205.6C2136.4 2198.0 2126.9 2172.5 2106.4 2148.7C2085.8 2124.9 2062.0 2111.7 2053.2 2119.3M2118.2 2213.6C2127.7 2205.8 2119.2 2179.8 2099.2 2155.4C2079.2 2131.0 2055.3 2117.6 2045.8 2125.4M2108.6 2221.5C2118.8 2213.5 2111.3 2186.9 2091.9 2162.0C2072.5 2137.1 2048.4 2123.4 2038.2 2131.3M2098.8 2229.1C2109.7 2221.0 2103.3 2193.8 2084.4 2168.4C2065.6 2143.0 2041.5 2129.0 2030.5 2137.1"/>
<path stroke-width="5.5" d="M2088.8 2236.4C2100.4 2228.2 2095.1 2200.6 2076.8 2174.7C2058.6 2148.7 2034.4 2134.4 2022.7 2142.6"/>
<path stroke-width="6.0" d="M2078.3 2243.8C2090.7 2235.5 2086.5 2207.4 2068.9 2180.9C2051.3 2154.5 2026.9 2139.8 2014.5 2148.0M2067.3 2251.0C2080.5 2242.7 2077.5 2214.2 2060.5 2187.2C2043.6 2160.3 2019.2 2145.2 2006.0 2153.4M2055.8 2258.2C2069.8 2249.9 2068.0 2220.9 2051.8 2193.5C2035.5 2166.0 2011.0 2150.5 1997.0 2158.8"/>
<path stroke-width="6.5" d="M2043.7 2265.2C2058.6 2257.0 2058.0 2227.7 2042.5 2199.7C2027.0 2171.8 2002.5 2155.8 1987.6 2164.0M2031.0 2272.2C2046.8 2264.0 2047.6 2234.4 2032.9 2205.9C2018.2 2177.5 1993.5 2161.0 1977.8 2169.1"/>
<path stroke-width="7.0" d="M2017.8 2278.9C2034.4 2270.9 2036.6 2241.0 2022.7 2212.1C2008.9 2183.1 1984.1 2166.1 1967.5 2174.1M2004.0 2285.5C2021.5 2277.7 2025.2 2247.5 2012.1 2218.1C1999.1 2188.7 1974.3 2171.1 1956.7 2178.9"/>
<path stroke-width="7.5" d="M1989.5 2291.8C2008.0 2284.2 2013.2 2253.9 2001.0 2224.0C1988.8 2194.1 1964.0 2176.0 1945.5 2183.6"/>
<path stroke-width="8.0" d="M1974.4 2297.8C1993.9 2290.5 2000.6 2260.1 1989.3 2229.8C1978.1 2199.5 1953.2 2180.8 1933.7 2188.0M1960.1 2303.1C1980.4 2295.8 1988.0 2265.1 1977.0 2234.6C1966.1 2204.1 1940.7 2185.3 1920.3 2192.7M1946.3 2308.2C1967.4 2300.6 1975.6 2269.7 1964.6 2239.1C1953.6 2208.5 1927.6 2189.9 1906.5 2197.5M1932.5 2313.3C1954.4 2305.5 1963.2 2274.2 1952.1 2243.6C1941.1 2212.9 1914.4 2194.5 1892.6 2202.3M1918.7 2318.3C1940.8 2310.4 1949.7 2279.1 1938.7 2248.4C1927.7 2217.8 1900.8 2199.4 1878.7 2207.3M1904.9 2323.3C1927.0 2315.4 1935.9 2284.1 1924.9 2253.4C1913.8 2222.7 1887.0 2204.3 1864.9 2212.3M1891.1 2328.3C1913.1 2320.3 1922.1 2289.0 1911.0 2258.4C1900.0 2227.7 1873.2 2209.3 1851.1 2217.3M1877.2 2333.3C1899.3 2325.3 1908.2 2294.0 1897.2 2263.4C1886.2 2232.7 1859.3 2214.3 1837.3 2222.2M1863.4 2338.2C1885.5 2330.3 1894.4 2299.0 1883.4 2268.3C1872.3 2237.7 1845.5 2219.3 1823.4 2227.2M1849.6 2343.2C1871.6 2335.3 1880.6 2304.0 1869.5 2273.3C1858.5 2242.7 1831.7 2224.3 1809.6 2232.2M1835.7 2348.2C1857.8 2340.3 1866.8 2309.0 1855.7 2278.3C1844.7 2247.6 1817.8 2229.2 1795.8 2237.2M1821.9 2353.2C1844.0 2345.2 1852.9 2313.9 1841.9 2283.3C1830.8 2252.6 1804.0 2234.2 1781.9 2242.2M1808.1 2358.2C1830.1 2350.2 1839.1 2318.9 1828.1 2288.3C1817.0 2257.6 1790.2 2239.2 1768.1 2247.1M1794.2 2363.1C1816.3 2355.2 1825.3 2323.9 1814.2 2293.2C1803.2 2262.6 1776.3 2244.2 1754.3 2252.1M1780.4 2368.1C1802.5 2360.2 1811.4 2328.9 1800.4 2298.2C1789.4 2267.6 1762.5 2249.1 1740.4 2257.1M1766.6 2373.1C1788.6 2365.2 1797.6 2333.9 1786.6 2303.2C1775.5 2272.5 1748.7 2254.1 1726.6 2262.1M1752.7 2378.1C1774.8 2370.1 1783.8 2338.8 1772.7 2308.2C1761.7 2277.5 1734.8 2259.1 1712.8 2267.1M1738.9 2383.1C1761.0 2375.1 1769.9 2343.8 1758.9 2313.2C1747.9 2282.5 1721.0 2264.1 1698.9 2272.0"/>
<ellipse cx="2368.0" cy="1177.0" rx="61" ry="16.5" transform="rotate(8.0 2368.0 1177.0)" stroke-width="3.6" fill="#000"/>
<ellipse cx="2368.0" cy="1179.0" rx="53" ry="12.5" transform="rotate(8.0 2368.0 1179.0)" stroke-width="3.6"/>
<ellipse cx="1701.0" cy="2334.0" rx="42" ry="60" transform="rotate(160.2 1701.0 2334.0)" stroke-width="3.6" fill="#000"/>
<ellipse cx="1703.0" cy="2333.0" rx="36" ry="54" transform="rotate(160.2 1703.0 2333.0)" stroke-width="3.6"/>
</g>

<!-- 31_cable.svg -->
<g fill="none" stroke="#737371" stroke-linecap="butt" stroke-linejoin="round">
<path d="M2651.6 1220.4L2651.3 1222.5L2651.0 1224.9L2650.7 1227.5L2650.3 1230.3L2649.9 1233.4L2649.5 1236.7L2649.0 1240.2L2648.6 1243.8L2648.1 1247.7L2647.5 1251.7L2647.0 1255.9L2646.4 1260.2L2645.9 1264.7L2645.3 1269.2L2644.7 1273.9L2644.1 1278.7L2643.5 1283.5L2642.9 1288.4L2642.2 1293.4L2641.6 1298.4L2641.0 1303.5L2640.3 1308.9L2639.6 1314.4L2638.9 1320.1L2638.2 1326.0L2637.5 1332.0L2636.7 1338.1L2636.0 1344.4L2635.2 1350.7L2634.4 1357.1L2633.6 1363.6L2632.8 1370.1L2632.0 1376.6L2631.2 1383.2L2630.5 1389.7L2629.7 1396.2L2628.9 1402.6L2628.1 1409.0L2627.3 1415.3L2626.6 1421.5L2625.8 1427.8L2625.1 1434.1L2624.3 1440.5L2623.5 1447.0L2622.7 1453.5L2622.0 1460.1L2621.2 1466.7L2620.4 1473.3L2619.6 1479.8L2618.8 1486.3L2618.0 1492.7L2617.3 1499.1L2616.5 1505.3L2615.8 1511.5L2615.1 1517.5L2614.4 1523.3L2613.7 1528.9L2613.0 1534.4L2612.4 1539.6L2611.7 1544.6" stroke-width="7.5"/>
<path d="M2611.7 1544.6L2611.1 1549.3L2610.6 1553.7L2610.0 1557.9L2609.4 1561.9L2608.9 1565.7L2608.3 1569.4L2607.8 1572.9L2607.3 1576.3L2606.8 1579.6L2606.3 1582.8L2605.8 1586.1L2605.4 1589.3L2604.9 1592.5L2604.5 1595.7L2604.0 1599.0L2603.6 1602.4L2603.2 1605.9L2602.8 1609.5L2602.5 1613.2L2602.1 1617.1L2601.8 1621.0L2601.5 1625.0L2601.3 1628.9L2601.0 1632.9L2600.8 1636.8L2600.6 1640.7L2600.4 1644.7L2600.2 1648.7L2600.0 1652.8L2599.9 1656.8L2599.7 1661.0L2599.6 1665.2L2599.4 1669.4L2599.3 1673.7L2599.2 1678.1L2599.0 1682.6L2598.9 1687.2L2598.8 1691.9L2598.6 1696.7L2598.5 1701.6L2598.3 1706.8L2598.1 1712.2L2598.0 1717.7L2597.9 1723.4L2597.8 1729.3L2597.6 1735.3L2597.5 1741.4L2597.4 1747.5L2597.3 1753.7L2597.2 1759.9L2597.1 1766.1L2596.9 1772.3L2596.8 1778.4L2596.7 1784.4L2596.5 1790.3L2596.3 1796.1L2596.2 1801.8L2596.0 1807.2L2595.7 1812.5L2595.5 1817.5L2595.3 1822.3L2595.0 1826.9L2594.8 1831.4L2594.6 1835.6L2594.4 1839.7L2594.2 1843.6L2593.9 1847.4L2593.7 1851.2L2593.4 1854.9L2593.2 1858.6L2592.9 1862.2L2592.5 1865.9L2592.2 1869.5L2591.8 1873.3L2591.4 1877.2L2591.0 1881.1L2590.5 1885.2L2589.9 1889.5L2589.3 1893.9L2588.7 1898.6" stroke-width="3.2"/>
<path d="M2588.7 1898.6L2588.0 1903.5L2587.3 1908.6L2586.6 1913.7L2585.9 1919.0L2585.1 1924.4L2584.3 1929.9L2583.5 1935.5L2582.6 1941.1L2581.8 1946.8L2580.8 1952.5L2579.9 1958.2L2578.9 1963.9L2577.8 1969.7L2576.7 1975.4L2575.5 1981.0L2574.3 1986.6L2573.1 1992.2L2571.7 1997.7L2570.3 2003.1L2568.9 2008.4L2567.3 2013.6L2565.8 2018.9L2564.1 2024.2L2562.4 2029.4L2560.7 2034.7L2558.9 2039.9L2557.0 2045.1L2555.1 2050.3L2553.1 2055.5L2551.1 2060.6L2549.0 2065.8L2546.9 2070.9L2544.8 2076.0L2542.6 2081.1L2540.3 2086.1L2538.0 2091.1L2535.6 2096.1L2533.2 2101.1L2530.8 2106.0L2528.3 2110.9L2525.7 2115.8L2523.1 2120.7L2520.5 2125.5L2517.8 2130.3L2515.0 2135.1L2512.3 2139.9L2509.4 2144.6L2506.5 2149.4L2503.6 2154.1L2500.6 2158.7L2497.6 2163.4L2494.5 2168.0L2491.4 2172.6L2488.2 2177.1L2484.9 2181.7L2481.6 2186.2L2478.3 2190.6L2474.8 2195.1L2471.4 2199.5L2467.8 2203.9L2464.2 2208.3L2460.5 2212.7L2456.7 2217.1L2452.9 2221.4L2448.9 2225.8L2444.9 2230.2L2440.8 2234.5L2436.7 2238.8L2432.5 2243.1L2428.3 2247.3L2424.0 2251.5L2419.8 2255.7L2415.5 2259.8L2411.2 2263.8L2406.8 2267.7L2402.5 2271.6L2398.2 2275.5L2393.9 2279.2L2389.6 2282.8L2385.4 2286.4L2381.2 2289.9L2377.0 2293.2L2372.9 2296.5L2368.8 2299.7L2364.7 2302.8L2360.6 2305.8L2356.5 2308.7L2352.4 2311.6L2348.3 2314.5L2344.1 2317.3L2339.9 2320.0L2335.7 2322.8L2331.3 2325.5L2327.0 2328.1L2322.5 2330.8L2318.0 2333.4L2313.4 2336.1L2308.6 2338.7L2303.8 2341.4L2298.9 2344.0L2293.8 2346.7L2288.7 2349.2L2283.5 2351.8L2278.3 2354.3L2272.9 2356.8L2267.5 2359.2L2262.0 2361.7L2256.4 2364.1L2250.8 2366.5L2245.1 2368.9L2239.3 2371.3L2233.5 2373.6L2227.6 2376.0L2221.6 2378.4L2215.6 2380.8L2209.5 2383.3L2203.4 2385.7L2197.2 2388.2L2191.0 2390.7L2184.7 2393.2L2178.3 2395.7L2171.8 2398.3L2165.2 2400.9L2158.4 2403.6L2151.5 2406.2L2144.6 2408.9L2137.6 2411.6L2130.5 2414.3L2123.4 2417.0L2116.3 2419.7L2109.2 2422.3L2102.1 2425.0L2095.0 2427.7L2088.0 2430.3L2081.0 2432.9L2074.2 2435.5L2067.4 2438.0L2060.7 2440.5L2054.2 2443.0L2047.9 2445.4L2041.5 2447.8L2035.0 2450.3L2028.5 2452.8L2021.8 2455.3L2015.1 2457.8L2008.4 2460.4L2001.8 2462.9L1995.2 2465.4L1988.7 2467.9L1982.4 2470.3L1976.2 2472.6L1970.2 2474.9L1964.5 2477.0L1959.0 2479.1L1953.9 2481.1L1949.1 2482.9L1944.7 2484.6L1940.6 2486.1L1937.1 2487.4L1934.0 2488.6" stroke-width="4.6"/>
<path d="M2676.4 1223.6L2676.1 1225.7L2675.8 1228.0L2675.5 1230.6L2675.2 1233.5L2674.8 1236.5L2674.4 1239.8L2673.9 1243.3L2673.5 1247.0L2673.0 1250.9L2672.5 1254.9L2671.9 1259.1L2671.4 1263.4L2670.8 1267.9L2670.2 1272.4L2669.6 1277.1L2669.0 1281.9L2668.4 1286.7L2667.7 1291.6L2667.1 1296.6L2666.4 1301.6L2665.7 1306.7L2665.0 1312.1L2664.2 1317.6L2663.4 1323.3L2662.6 1329.2L2661.8 1335.2L2660.9 1341.3L2660.1 1347.5L2659.2 1353.9L2658.3 1360.2L2657.4 1366.7L2656.5 1373.2L2655.6 1379.7L2654.7 1386.2L2653.8 1392.7L2652.9 1399.2L2652.0 1405.6L2651.1 1412.0L2650.2 1418.3L2649.4 1424.5L2648.6 1430.7L2647.7 1437.0L2646.9 1443.4L2646.0 1449.8L2645.1 1456.4L2644.3 1462.9L2643.4 1469.5L2642.5 1476.0L2641.7 1482.6L2640.8 1489.1L2640.0 1495.5L2639.1 1501.8L2638.3 1508.1L2637.5 1514.2L2636.7 1520.2L2635.9 1526.0L2635.2 1531.7L2634.4 1537.1L2633.7 1542.4L2633.1 1547.4" stroke-width="3.6"/>
<path d="M2633.1 1547.4L2632.4 1552.2L2631.8 1556.7L2631.1 1561.0L2630.5 1565.0L2629.9 1568.9L2629.4 1572.6L2628.8 1576.1L2628.3 1579.5L2627.7 1582.8L2627.2 1586.0L2626.8 1589.2L2626.3 1592.3L2625.8 1595.4L2625.4 1598.5L2625.0 1601.7L2624.6 1604.9L2624.2 1608.2L2623.8 1611.6L2623.4 1615.2L2623.1 1618.9L2622.7 1622.7L2622.4 1626.6L2622.1 1630.4L2621.9 1634.2L2621.6 1638.0L2621.4 1641.9L2621.2 1645.8L2621.0 1649.7L2620.8 1653.6L2620.6 1657.7L2620.4 1661.7L2620.3 1665.9L2620.1 1670.1L2620.0 1674.4L2619.8 1678.8L2619.6 1683.3L2619.5 1687.9L2619.3 1692.6L2619.1 1697.4L2618.9 1702.4L2618.8 1707.4L2618.6 1712.7L2618.4 1718.3L2618.3 1723.9L2618.1 1729.8L2618.0 1735.7L2617.8 1741.8L2617.7 1747.9L2617.5 1754.1L2617.4 1760.3L2617.2 1766.6L2617.1 1772.7L2616.9 1778.9L2616.8 1785.0L2616.6 1790.9L2616.4 1796.8L2616.2 1802.5L2616.0 1808.0L2615.7 1813.4L2615.5 1818.5L2615.2 1823.3L2615.0 1828.0L2614.8 1832.4L2614.6 1836.6L2614.3 1840.8L2614.1 1844.8L2613.9 1848.7L2613.6 1852.5L2613.4 1856.3L2613.1 1860.1L2612.8 1863.8L2612.5 1867.6L2612.2 1871.5L2611.8 1875.4L2611.3 1879.4L2610.9 1883.5L2610.4 1887.7L2609.8 1892.1L2609.2 1896.6L2608.5 1901.4" stroke-width="5.2"/>
<path d="M2608.5 1901.4L2607.8 1906.3L2607.1 1911.4L2606.3 1916.5L2605.5 1921.9L2604.7 1927.3L2603.9 1932.9L2603.0 1938.5L2602.1 1944.2L2601.1 1950.0L2600.2 1955.8L2599.1 1961.6L2598.0 1967.5L2596.9 1973.4L2595.7 1979.2L2594.4 1985.1L2593.1 1990.9L2591.7 1996.7L2590.3 2002.4L2588.7 2008.1L2587.1 2013.6L2585.5 2019.1L2583.8 2024.6L2582.0 2030.0L2580.2 2035.4L2578.3 2040.8L2576.4 2046.2L2574.4 2051.5L2572.3 2056.9L2570.2 2062.2L2568.1 2067.5L2565.9 2072.8L2563.6 2078.0L2561.3 2083.2L2558.9 2088.4L2556.5 2093.6L2554.1 2098.8L2551.6 2103.9L2549.0 2109.0L2546.4 2114.0L2543.7 2119.1L2541.1 2124.1L2538.3 2129.0L2535.5 2134.0L2532.7 2138.9L2529.8 2143.8L2526.9 2148.7L2523.9 2153.5L2520.9 2158.3L2517.8 2163.1L2514.6 2167.9L2511.4 2172.7L2508.2 2177.4L2504.9 2182.1L2501.5 2186.7L2498.1 2191.4L2494.6 2196.0L2491.1 2200.5L2487.5 2205.1L2483.9 2209.6L2480.2 2214.1L2476.4 2218.6L2472.5 2223.0L2468.5 2227.5L2464.5 2232.0L2460.4 2236.4L2456.2 2240.8L2452.0 2245.2L2447.7 2249.6L2443.3 2253.9L2439.0 2258.2L2434.6 2262.4L2430.1 2266.6L2425.7 2270.7L2421.2 2274.8L2416.8 2278.8L2412.3 2282.7L2407.8 2286.6L2403.4 2290.3L2399.0 2294.0L2394.6 2297.6L2390.2 2301.1L2385.9 2304.5L2381.7 2307.8L2377.4 2311.0L2373.1 2314.2L2368.9 2317.3L2364.6 2320.3L2360.4 2323.2L2356.1 2326.1L2351.8 2329.0L2347.4 2331.8L2343.0 2334.5L2338.6 2337.3L2334.0 2340.0L2329.5 2342.6L2324.8 2345.3L2320.0 2348.0L2315.2 2350.6L2310.2 2353.3L2305.1 2356.0L2299.9 2358.6L2294.7 2361.3L2289.3 2363.8L2283.9 2366.4L2278.4 2368.8L2272.8 2371.3L2267.2 2373.7L2261.6 2376.1L2255.8 2378.5L2250.0 2380.9L2244.2 2383.2L2238.3 2385.6L2232.3 2387.9L2226.3 2390.3L2220.3 2392.7L2214.2 2395.0L2208.0 2397.4L2201.8 2399.9L2195.6 2402.3L2189.3 2404.8L2182.9 2407.3L2176.4 2409.9L2169.7 2412.5L2162.9 2415.1L2156.0 2417.8L2149.0 2420.4L2141.9 2423.1L2134.8 2425.8L2127.7 2428.4L2120.6 2431.1L2113.4 2433.8L2106.3 2436.4L2099.3 2439.0L2092.2 2441.7L2085.3 2444.2L2078.4 2446.8L2071.6 2449.3L2065.0 2451.8L2058.5 2454.2L2052.1 2456.6L2045.8 2459.0L2039.3 2461.4L2032.7 2463.9L2026.0 2466.4L2019.3 2468.9L2012.6 2471.5L2005.9 2474.0L1999.3 2476.4L1992.9 2478.9L1986.5 2481.2L1980.3 2483.5L1974.3 2485.8L1968.6 2487.9L1963.1 2490.0L1958.0 2491.9L1953.2 2493.7L1948.7 2495.4L1944.7 2496.9L1941.1 2498.2L1938.0 2499.4" stroke-width="3.0"/>
<path d="M2601.8 1621.0L2622.7 1622.7" stroke-width="2.6"/>
<path d="M2600.8 1636.8L2621.6 1638.0" stroke-width="2.6"/>
<path d="M2598.5 1701.6L2618.9 1702.4" stroke-width="2.6"/>
<path d="M2595.5 1817.5L2615.5 1818.5" stroke-width="2.6"/>
<path d="M2272.9 2356.8L2278.4 2368.8" stroke-width="2.6"/>
<path d="M2184.7 2393.2L2189.3 2404.8" stroke-width="2.6"/>
<g transform="translate(2540,1040) scale(0.14738)" stroke-width="24" stroke-linecap="round">
<ellipse cx="890" cy="260" rx="42" ry="70" transform="rotate(-8 890 260)"/>
<path d="M880 190L1050 172C1090 190 1105 260 1090 300L1060 325L900 345"/>
<path d="M955 290L1060 275" stroke-width="16"/>
<path d="M930 345L890 650M990 340L950 655M962 340L925 650" stroke-width="20"/>
<path d="M840 660L990 680L985 750L830 735Z" fill="#737371" stroke-width="14"/>
<path d="M870 712L960 722L958 770L868 760Z" fill="#000" stroke="none"/>
<path d="M800 740C740 770 720 840 740 880L770 900L1010 925L1050 880C1070 830 1040 780 1000 760"/>
<path d="M800 790C850 830 950 850 1040 830M800 850C860 885 950 895 1030 880" stroke-width="18"/>
<ellipse cx="770" cy="845" rx="14" ry="30" stroke-width="12"/>
<path d="M770 900L735 1150C750 1185 790 1195 830 1195L950 1195L975 1170L1010 925M820 935L780 1175" stroke-width="20"/>
<path d="M790 910L760 1160" stroke-width="12"/>
</g>
<g stroke-width="2.8" stroke-linecap="round">
<path d="M1938 2486L1911 2497L1919 2518L1944 2508"/>
<path d="M1911 2497C1900 2494 1880 2500 1876 2508C1872 2518 1878 2528 1888 2532C1900 2534 1915 2528 1919 2518"/>
<path d="M1893 2498L1901 2528M1885 2502L1892 2531M1903 2495L1910 2524"/>
<path d="M1876 2512L1845 2525M1880 2522L1848 2535"/>
<path d="M1817 2520L1838 2526L1834 2546L1813 2540Z"/>
<path d="M1838 2526C1846 2530 1848 2542 1842 2548L1834 2546"/>
</g>
</g>

<!-- 40_drain.svg -->
<g transform="translate(960,2380) scale(0.24944)" fill="none" stroke="#737371" stroke-width="14" stroke-linecap="round" stroke-linejoin="round">
<!-- outlet filled band -->
<path d="M1330 168C1420 230 1500 340 1505 470C1510 580 1480 660 1372 708L1340 692C1390 640 1395 540 1385 450C1370 350 1330 270 1285 225Z" fill="#737371"/>
<path d="M1150 172C1200 150 1280 140 1330 168"/>
<path d="M1160 190C1250 250 1340 380 1350 520C1355 620 1330 690 1290 740"/>
<path d="M1210 330C1270 420 1295 540 1280 650C1270 710 1250 750 1230 775"/>
<path d="M1090 432C1150 520 1170 620 1150 700C1130 740 1100 760 1060 765"/>
<path d="M1060 765C1120 800 1200 800 1260 775C1300 760 1340 730 1372 708"/>
<path d="M1040 470L995 590"/>
<!-- flange -->
<ellipse cx="670" cy="265" rx="550" ry="206" fill="#000"/>
<ellipse cx="670" cy="270" rx="524" ry="188"/>
<ellipse cx="670" cy="296" rx="400" ry="150"/>
<ellipse cx="672" cy="302" rx="374" ry="134"/>
<path d="M130 330C180 400 250 430 290 445C450 500 850 510 1050 445C1120 420 1180 380 1212 330"/>
<path d="M290 445L290 475C450 520 800 520 1000 470"/>
<path d="M960 190L1040 150"/>
<!-- body -->
<path d="M280 480C200 570 150 700 158 850C180 950 240 1010 330 1040L330 1120C350 1170 420 1200 670 1240C800 1245 950 1220 1010 1150L1020 1090"/>
<path d="M215 555C165 575 135 620 138 665C140 700 150 715 160 722"/>
<path d="M330 1060L430 1092L430 1195M430 1092L700 1170"/>
<!-- inner mechanism -->
<ellipse cx="690" cy="790" rx="70" ry="125" transform="rotate(8 690 790)" stroke-width="16"/>
<path d="M700 590C620 680 570 820 575 940C580 1040 620 1130 700 1180"/>
<path d="M730 600C650 690 600 820 605 940C610 1040 650 1120 720 1165"/>
<path d="M710 545L830 590L900 565L790 520Z"/>
<path d="M760 600C830 580 900 590 960 630C1020 680 1050 760 1050 840"/>
<path d="M850 600L850 780L795 800L795 1010L610 1030"/>
<path d="M795 800L1000 880L1000 1060L795 1010"/>
<path d="M795 790L1040 880" stroke-width="22"/>
<path d="M995 760L1050 770L1045 840L1095 850L1085 890L1030 880"/>
<path d="M540 920L600 915L605 960L545 965Z"/>
<path d="M880 930C870 980 900 1020 960 1040L1090 1010L1095 1075L1020 1100L1020 1060"/>
<path d="M920 920C915 960 935 1000 990 1015"/>
<path d="M800 1105L900 1140L1010 1090M700 1150L830 1190L910 1160"/>
<path d="M620 1010L790 1000M660 1100L800 1110"/>
</g>

<!-- 41_lower.svg -->
<g transform="translate(1280,2600) scale(0.28345)" fill="none" stroke="#737371" stroke-width="11" stroke-linecap="round" stroke-linejoin="round">
<path d="M175 292C112 280 92 222 118 165C140 120 200 98 252 112L305 145C335 182 345 258 350 300C400 330 470 302 520 284L600 312L596 345C520 384 450 402 400 382C350 362 300 342 262 322"/>
<path d="M175 292C200 300 240 292 262 270"/>
<path d="M305 145C280 135 250 150 240 165"/>
<ellipse cx="225" cy="238" rx="48" ry="64" stroke-width="18"/>
<path d="M262 322C280 300 290 270 292 240"/>
<path d="M520 284L500 330L400 350"/>
</g>
<g transform="translate(1280,2600) scale(0.28345)" fill="none" stroke="#2b2b2a" stroke-width="44">
<ellipse cx="915" cy="490" rx="47" ry="72" transform="rotate(8 915 490)"/>
</g>
<g transform="translate(1600,2740) scale(0.26077)" fill="none" stroke="#737371" stroke-width="12" stroke-linecap="round" stroke-linejoin="round">
<!-- plate -->
<path d="M1380 228L1525 240L1540 785L1400 905C1300 960 1200 975 1140 920C1050 850 1010 720 1030 600C1060 420 1200 280 1380 228Z"/>
<path d="M1395 255C1230 300 1090 440 1060 610C1045 730 1080 850 1160 915"/>
<path d="M1245 330L1345 295L1348 360L1248 395Z"/>
<path d="M1262 345L1332 322L1334 350L1264 372Z" stroke-width="7"/>
<path d="M1245 855L1345 825L1348 890L1248 925Z"/>
<path d="M1262 870L1332 850L1334 878L1264 900Z" stroke-width="7"/>
<!-- connector -->
<path d="M385 105L800 240C820 260 822 300 820 330L820 520L660 582L565 540L565 370L345 290C325 240 340 150 385 105Z"/>
<path d="M205 78L330 112M160 130C160 100 180 78 205 78M160 130C160 160 170 185 190 195L260 220"/>
<path d="M250 125C240 160 245 200 260 222L335 250"/>
<path d="M300 105L350 120L345 140"/>
<path d="M520 175C470 230 465 300 490 345" stroke-width="30"/>
<path d="M645 205C595 255 590 310 612 340"/>
<ellipse cx="745" cy="330" rx="68" ry="96" transform="rotate(-12 745 330)"/>
<ellipse cx="745" cy="330" rx="38" ry="60" transform="rotate(-12 745 330)" stroke-width="18"/>
<path d="M660 350L660 582"/>
<path d="M610 420L610 560M640 432L640 572M610 420L640 432"/>
<circle cx="742" cy="495" r="30"/>
<path d="M725 510L760 480"/>
</g>

<!-- 50_trap_pipe.svg -->
<g transform="translate(350,2900) scale(0.39683)" fill="none" stroke="#231f20" stroke-linecap="round" stroke-linejoin="round">
<g stroke-width="14">
<ellipse cx="220" cy="663" rx="242" ry="157" transform="rotate(73.2 220 663)"/>
<path d="M225 415C340 425 445 560 440 700C436 800 385 872 320 892"/>
<path d="M150 432L455 262"/>
<path d="M440 268C470 225 530 205 590 222L640 240"/>
<path d="M590 222C720 262 818 430 805 585C797 680 760 730 700 748"/>
<path d="M290 895L700 748"/>
</g>
<g stroke-width="7.5">
<path d="M232 413L520 268"/>
<path d="M560 228C690 262 790 425 780 572C773 662 742 716 692 736"/>
<path d="M262 880L372 836"/>
<path d="M372 836C415 790 420 700 400 620"/>
</g>
</g>

<!-- 51_trap_mid.svg -->
<g transform="translate(700,2820) scale(0.39683)" fill="none" stroke="#231f20" stroke-linecap="round" stroke-linejoin="round">
<!-- nut 1 -->
<g stroke-width="15">
<path d="M318 620C380 640 470 648 560 632C630 615 675 585 688 548"/>
<path d="M622 500C660 520 685 545 690 590L690 700"/>
<path d="M125 738C180 790 300 825 420 825C540 822 650 775 690 700"/>
<path d="M378 790L378 715C385 690 428 690 435 715L435 790"/>
<path d="M592 760L592 672C598 650 622 650 626 672L626 740"/>
<path d="M185 770L185 700M215 780L215 690"/>
</g>
<g stroke-width="8">
<path d="M300 650C380 672 480 680 570 660C640 640 680 610 690 590"/>
<path d="M632 520C650 540 655 570 640 595"/>
<path d="M140 760C200 815 310 850 420 850C540 848 640 805 675 745"/>
<path d="M205 760L205 785M640 700L640 760"/>
</g>
<!-- ring 1 -->
<g stroke-width="15">
<ellipse cx="405" cy="962" rx="232" ry="95"/>
<ellipse cx="405" cy="985" rx="200" ry="70"/>
<path d="M195 1010C215 1060 310 1090 410 1090C510 1090 600 1055 622 1000"/>
</g>
<g stroke-width="8">
<path d="M240 1030L252 1062M545 905L545 940M590 925L590 965"/>
</g>
<!-- socket top (partial, continues in base) -->
<!-- ring 2 -->
<g stroke-width="15">
<ellipse cx="1060" cy="545" rx="202" ry="78"/>
<ellipse cx="1062" cy="578" rx="182" ry="55"/>
<path d="M858 548C835 570 825 590 828 612C850 665 950 690 1055 690C1170 690 1270 655 1288 600C1285 580 1275 560 1262 548"/>
</g>
<g stroke-width="8">
<path d="M908 612L900 650M1200 500L1200 530M1235 518L1235 548"/>
</g>
<!-- right nut + pipe -->
<g stroke-width="15">
<ellipse cx="1057" cy="790" rx="208" ry="76"/>
<path d="M849 790L849 905M1265 790L1265 905"/>
<path d="M870 880C930 915 990 925 1057 925C1130 925 1200 912 1250 880"/>
<path d="M835 850C790 870 768 895 770 930L775 1075C800 1130 920 1170 1055 1170C1190 1170 1320 1125 1340 1065L1345 920C1340 890 1310 865 1275 850"/>
<path d="M850 1100L850 1010M882 1090L882 1010"/>
<path d="M1035 1140L1035 1030M1080 1140L1080 1030"/>
<path d="M1240 1100L1240 1005M1275 1085L1275 1000"/>
</g>
<path stroke-width="44" d="M800 905C850 962 950 990 1057 990C1170 990 1280 958 1318 900"/>
<g stroke-width="8">
<ellipse cx="1057" cy="800" rx="186" ry="62"/>
<path d="M862 840C920 875 990 885 1057 885C1130 885 1200 872 1255 840"/>
<path d="M790 1000C850 1040 950 1055 1057 1055C1170 1055 1270 1035 1330 990"/>
<path d="M790 880C800 860 820 850 845 845M1270 845C1300 855 1320 870 1325 885"/>
</g>
</g>

<!-- 52_trap_elbow.svg -->
<g transform="translate(600,2840) scale(0.22676)" fill="none" stroke="#231f20" stroke-linecap="round" stroke-linejoin="round">
<g stroke-width="26">
<path d="M0 690L1000 205C1080 170 1200 165 1290 215C1400 275 1480 380 1500 500C1515 580 1515 700 1515 905C1450 965 1300 1005 1150 1010C1090 1010 1040 1000 1000 985"/>
<path d="M1310 775L1075 885C1020 920 975 985 925 1040C880 1075 780 1110 690 1160L324 1336"/>
</g>
<g stroke-width="12">
<path d="M60 715L1120 215"/>
<path d="M1105 205C1250 270 1370 420 1405 620"/>
<path d="M1405 620C1440 605 1475 590 1500 565"/>
<path d="M1405 620L1320 765"/>
</g>
<g stroke-width="15.5" stroke-linecap="butt">
<path d="M1222 467L-723 1446" stroke-dasharray="325 48 58 46"/>
<path d="M1160 415L1160 2126" stroke-dasharray="325 48 58 46"/>
<path d="M2291 673L2291 1976" stroke-dasharray="325 48 58 46"/>
</g>
</g>

<!-- 53_trap_base.svg -->
<g transform="translate(700,3100) scale(0.39683)" fill="none" stroke="#231f20" stroke-linecap="round" stroke-linejoin="round">
<g stroke-width="15">
<ellipse cx="408" cy="498" rx="240" ry="100"/>
<ellipse cx="408" cy="505" rx="208" ry="78"/>
<path d="M160 520L160 590C230 680 580 680 655 590L655 520"/>
<path d="M185 650C175 690 140 720 135 770L105 885C95 920 95 950 120 975C200 1030 330 1055 470 1050C540 1048 590 1040 625 1025L1290 755C1340 735 1365 705 1365 665C1365 640 1355 625 1340 612"/>
<path d="M620 640C600 690 575 720 590 760C600 790 600 800 600 820L600 965"/>
<path d="M135 770C220 830 450 860 600 812L1255 598"/>
<path d="M105 900C200 960 450 990 610 960L1285 725"/>
<path d="M640 472L805 420"/>
<path d="M690 665L1040 538"/>
<path d="M1195 462C1235 520 1255 580 1255 720"/>
<path d="M1290 430C1330 480 1340 540 1335 690"/>
<path d="M805 440C830 500 950 530 1055 530C1160 530 1260 490 1295 430"/>
<path d="M1040 538C1100 545 1180 520 1230 490"/>
<path d="M640 640C660 655 670 665 690 665"/>
</g>
<path stroke-width="58" d="M180 565C250 650 570 650 638 565" stroke-linecap="butt"/>
<g stroke-width="12">
<path d="M185 655C270 712 530 712 622 655"/>
<path d="M188 692C280 747 520 747 606 700"/>
<path d="M92 930C88 962 98 988 125 1004C210 1054 340 1080 475 1074C545 1072 600 1062 635 1048L1300 778C1352 757 1382 722 1378 682"/>
</g>
<g stroke-width="8">
<path d="M195 640C280 690 520 690 615 640"/>
<path d="M170 700C260 760 470 770 580 730"/>
<path d="M255 420L255 455M560 455L560 530"/>
<path d="M640 985L1300 745"/>
<path d="M820 480C880 510 980 520 1055 515"/>
<path d="M630 640C650 600 640 620 665 660"/>
<path d="M1070 480L1070 515L1190 500"/>
</g>
</g>

<!-- 60_dark_main.svg -->
<g stroke="#2b2a28">
<use href="#knob" x="0" y="0" transform="translate(1490,840)"/>
<use href="#knob" transform="translate(1432.5,222.3)"/>
<use href="#s85" transform="translate(1980,780)"/>
</g>
<use href="#oring" transform="translate(2228.3,937.3) rotate(5)"/>
<use href="#oring" transform="translate(2574.6,901.3) rotate(5)"/>
<use href="#oring" transform="translate(2623,187) rotate(5)"/>
<use href="#oring" transform="translate(2688,179) rotate(5)"/>
<use href="#oring" transform="translate(2217,348.5) rotate(5)"/>
<g transform="translate(1960,180) scale(0.34014)" fill="none" stroke="#6e6e6c" stroke-width="10" stroke-dasharray="17 12">
<ellipse cx="365" cy="540" rx="295" ry="385" transform="rotate(-4 365 540)"/>
<ellipse cx="388" cy="545" rx="282" ry="376" transform="rotate(-4 388 545)"/>
<ellipse cx="350" cy="540" rx="196" ry="276"/>
<ellipse cx="372" cy="542" rx="180" ry="264"/>
</g>
<g transform="translate(1770,820) scale(0.14739)" fill="none" stroke="#2b2a28" stroke-width="40" stroke-linecap="round" stroke-linejoin="round">
<path d="M700 150L905 125C920 220 960 300 1010 320L1100 215C1250 300 1400 500 1480 750C1540 950 1545 1100 1520 1120C1450 1150 1400 1250 1400 1330L1500 1400C1450 1600 1300 1800 1100 1900C1000 1930 900 1930 860 1920L850 1870C800 1790 720 1720 670 1730L640 1830C500 1750 350 1550 270 1300C220 1150 210 1000 215 980C290 950 320 800 290 700L225 670C280 450 450 230 700 150Z"/>
<path d="M680 200C480 280 330 500 300 680M250 1000C260 1300 400 1600 640 1780M870 1880C1100 1880 1350 1650 1440 1400M1060 290C1250 420 1420 750 1440 1080" stroke-width="22"/>
<path d="M1040 330C1200 450 1360 750 1380 1060C1370 1150 1330 1250 1340 1340C1280 1560 1100 1780 900 1830" stroke-width="24"/>
<ellipse cx="810" cy="1030" rx="235" ry="320" stroke-width="62" transform="rotate(-5 810 1030)"/>
<ellipse cx="905" cy="1040" rx="95" ry="215" stroke-width="40" transform="rotate(-8 905 1040)"/>
<path d="M790 400C700 400 520 520 440 680C420 740 480 780 560 770C620 700 700 660 770 650C810 560 820 470 790 400Z"/>
<path d="M770 440C680 470 560 570 500 690" stroke-width="20"/>
<path d="M1030 500C990 560 980 640 990 700C1040 760 1080 840 1100 940L1180 980C1200 800 1150 620 1030 500Z"/>
<path d="M1060 600L1180 690M1060 600L1050 720" stroke-width="22"/>
<path d="M1220 1290C1130 1270 960 1330 880 1400C840 1480 840 1580 880 1640C960 1640 1080 1560 1160 1460C1210 1400 1230 1340 1220 1290Z"/>
<path d="M900 1440C890 1500 890 1560 900 1600M940 1420C1000 1370 1100 1330 1180 1320" stroke-width="20"/>
<path d="M390 1020C370 1200 450 1420 600 1560C680 1520 690 1420 680 1340" />
<path d="M470 1100C470 1250 540 1400 640 1480" stroke-width="22"/>
<path d="M1400 1070L1400 1160M1440 1040L1440 1090" stroke-width="22"/>
</g>

<!-- 61_dark_lower.svg -->
<g transform="translate(1330,2260) scale(0.19841)" fill="none" stroke="#2b2a28" stroke-width="32" stroke-linecap="round" stroke-linejoin="round">
<!-- S0008 -->
<ellipse cx="312" cy="935" rx="232" ry="355" transform="rotate(-12 312 935)"/>
<ellipse cx="352" cy="940" rx="172" ry="300" transform="rotate(-12 352 940)"/>
<path d="M330 575C450 590 600 780 640 1000C670 1180 600 1290 480 1290L380 1290"/>
<path d="M380 620L420 600M350 1240L420 1250" stroke-width="20"/>
<!-- S0003 -->
<ellipse cx="1050" cy="665" rx="285" ry="440" transform="rotate(-14 1050 665)" stroke-width="70"/>
<ellipse cx="1130" cy="670" rx="160" ry="340" transform="rotate(-14 1130 670)" stroke-width="22"/>
<ellipse cx="1160" cy="672" rx="150" ry="330" transform="rotate(-14 1160 672)" stroke-width="18"/>
<path d="M930 240C1000 200 1150 170 1230 190C1380 260 1520 450 1560 700C1570 850 1540 980 1470 1040C1400 1090 1300 1130 1180 1130"/>
<path d="M1180 240L1300 330L1290 380L1420 420L1380 500L1440 560L1430 720L1520 740L1440 820L1420 980L1340 1030" stroke-width="24"/>
<path d="M1290 380L1330 400M1380 500L1440 470M1430 720L1440 820M1100 1000L1200 960L1280 1020" stroke-width="24"/>
</g>
<g transform="translate(1030,1440) scale(0.22173)" fill="none" stroke="#2b2a28" stroke-width="30" stroke-linecap="round" stroke-linejoin="round">
<!-- plug -->
<ellipse cx="450" cy="110" rx="372" ry="122"/>
<path d="M110 230C130 320 350 372 450 372C600 372 780 320 790 222"/>
<path d="M140 240C250 300 350 332 450 332C560 332 700 290 760 240M200 250C300 290 400 302 450 302C520 302 640 280 700 246" stroke-width="14"/>
<path d="M375 372L375 680C400 722 500 722 525 680L525 372M408 378L408 695" stroke-width="22"/>
<!-- washer -->
<ellipse cx="460" cy="888" rx="372" ry="148"/>
<path d="M100 925C150 1025 350 1075 460 1075C600 1075 780 1015 830 905"/>
<ellipse cx="460" cy="890" rx="255" ry="92"/>
<path d="M280 925C330 965 400 975 465 975C540 975 620 955 660 920" stroke-width="18"/>
<path d="M150 985C250 1040 380 1050 460 1050C560 1050 700 1020 770 980" stroke-width="12"/>
<!-- nut + pin -->
<ellipse cx="448" cy="1165" rx="68" ry="52" fill="#2b2a28"/>
<path d="M385 1270C385 1245 510 1245 510 1270L510 1790C535 1810 535 1860 500 1875C470 1890 420 1890 395 1875C360 1860 360 1810 385 1790Z" fill="#2b2a28" stroke-width="10"/>
</g>
<g transform="translate(500,1850) scale(0.6236)" fill="none" stroke="#2b2a28" stroke-width="9" stroke-linecap="round" stroke-linejoin="round">
<!-- screws -->
<g transform="translate(0,11)">
<ellipse cx="685" cy="105" rx="50" ry="21"/>
<path d="M636 110C640 135 655 145 650 160L650 340C670 358 705 358 722 340L722 160C718 145 732 135 735 110"/>
<path d="M650 175L722 175M650 190L722 190M650 205L722 205M650 220L722 220M650 235L722 235M650 250L722 250M650 265L722 265M650 280L722 280M650 295L722 295M650 310L722 310M650 325L722 325" stroke-width="5"/>
<path d="M660 100L710 108M675 92L695 118" stroke-width="6"/>
<ellipse cx="1005" cy="115" rx="50" ry="21"/>
<path d="M956 120C960 145 972 155 968 170L968 295C985 310 1030 310 1045 295L1045 170C1040 155 1052 145 1055 120"/>
<path d="M968 185L1045 185M968 200L1045 200M968 215L1045 215M968 230L1045 230M968 245L1045 245M968 260L1045 260M968 275L1045 275M968 290L1045 290" stroke-width="5"/>
</g>
<!-- S0237 -->
<ellipse cx="1000" cy="408" rx="205" ry="77"/>
<ellipse cx="1000" cy="415" rx="135" ry="50" stroke-width="6"/>
<path d="M865 450L865 505C900 550 1100 550 1135 505L1135 450" />
<path d="M880 440C920 470 1080 470 1120 440" stroke-width="14"/>
<path d="M1090 395L1140 365M1090 395L1085 430M900 440L1000 420L1100 440" stroke-width="5"/>
<!-- S0100 -->
<ellipse cx="1005" cy="650" rx="195" ry="72"/>
<ellipse cx="1005" cy="655" rx="170" ry="58" stroke-width="6"/>
<ellipse cx="1005" cy="668" rx="135" ry="45"/>
<path d="M810 655L815 690C850 740 1150 740 1195 690L1200 655"/>
<ellipse cx="1007" cy="730" rx="241" ry="88"/>
<ellipse cx="1007" cy="727" rx="222" ry="77" stroke-width="5"/>
<path d="M766 735L768 765C800 835 1200 845 1246 765L1248 735"/>
<path d="M830 720C900 770 1100 775 1180 720" stroke-width="14"/>
<path d="M835 790L835 810M1190 790L1190 812M905 735L905 760" stroke-width="5"/>
</g>
<g transform="translate(960,2380) scale(0.24944)" fill="none" stroke="#2b2a28" stroke-width="28" stroke-linecap="round" stroke-linejoin="round">
<!-- S0079 nut -->
<ellipse cx="670" cy="1335" rx="112" ry="45"/>
<ellipse cx="675" cy="1340" rx="45" ry="16" stroke-width="14"/>
<path d="M560 1340L585 1465L548 1480L548 1560C600 1600 740 1600 790 1555L792 1440L770 1455L782 1340"/>
<path d="M585 1465C640 1495 720 1490 770 1455M640 1490L645 1590M748 1470L750 1575" stroke-width="20"/>
</g>

<!-- 80_axes.svg -->
<g fill="none" stroke-linecap="round">
<path d="M1786.8 985.9L1797.0 986.9L1815.1 986.6L1906.6 977.2L2234.8 943.3L2632.6 901.0L2901.3 869.8L2900.7 864.4L2631.5 890.5L2233.7 932.9L1905.7 968.8L1814.2 978.9L1796.5 982.4L1786.8 985.5Z" fill="#fff"/>
<path d="M1794.8 984.9L2045.3 958.2" stroke="#000" stroke-width="2.6" stroke-dasharray="70 13.5 13 12.5" stroke-dashoffset="4.8"/>
<path d="M2045.3 958.2L2683.2 890.3" stroke="#000" stroke-width="3.8" stroke-dasharray="70 13.5 13 12.5" stroke-dashoffset="38.8"/>
<path d="M2683.2 890.3L2898.0 867.4" stroke="#000" stroke-width="2.6" stroke-dasharray="70 13.5 13 12.5" stroke-dashoffset="26.3"/>
<path d="M1129 1487L1129 2738" stroke="#fff" stroke-width="9.8" stroke-linecap="butt"/>
<circle cx="1129" cy="2738" r="4.9" fill="#fff" stroke="none"/>
<path d="M1124.1 1492 Q1129 1476 1133.9 1492Z" fill="#fff" stroke="none"/>
<path d="M1129 1489L1129 2119" stroke="#000" stroke-width="2.9" stroke-dasharray="68 12 13 12"/>
<path d="M1129 2119L1129 2738" stroke="#000" stroke-width="3.8" stroke-dasharray="68 12 13 12"/>
<path d="M1260.8 2498.5L1916.7 2262.8" stroke="#fff" stroke-width="7.4"/>
<path d="M1264 2497.4L1914 2263.8" stroke="#000" stroke-width="2.7" stroke-dasharray="60 12 12 12"/>
<path d="M1129.9 2583.4L1410.6 2689.1L1861.9 2858.1L1872.7 2860.6L1873.4 2858.7L1863.6 2853.4L1412.9 2683.0L1132.1 2577.4Z" fill="#fff"/>
<path d="M1133.8 2581.5L1400.5 2681.8" stroke="#000" stroke-width="2.9" stroke-dasharray="60 12 12 12" stroke-dashoffset="0.0"/>
<path d="M1403.4 2682.9L1870.3 2858.6" stroke="#000" stroke-width="2.2" stroke-dasharray="60 12 12 12" stroke-dashoffset="0.0"/>
</g>

<!-- 85_leaders.svg -->
<g>
<path class="lw" d="M1291.7 223.4L1529.8 348.4 M1832.2 460.3L1762.5 563.0 M2578.0 116.0L2675.0 170.0 M2458.5 146.0L2604.0 183.0 M2218.5 374.5L2169.0 516.0 M1462.8 1054.0L1556.3 1049.0 M1876.6 1067.0L1909.5 1231.0 M2298.0 768.0L2227.0 912.7 M2465.3 773.6L2573.0 881.5 M2102.0 1057.4L2138.0 1145.0 M715.0 1418.5L970.8 1557.0 M1192.0 1646.0L1307.6 1711.6 M921.0 1988.4L743.2 2048.3 M1141.0 1988.4L1288.8 2029.6 M1061.2 2148.0L813.7 2187.4 M1033.2 2292.7L804.3 2396.3 M1399.8 2266.6L1391.7 2381.3 M1729.6 2182.3L1576.5 2326.3 M1676.9 2686.4L1554.4 2720.7 M1144.9 2744.6L1318.4 2785.4"/>
<path class="lr" d="M1291.7 223.4L1529.8 348.4 M1832.2 460.3L1762.5 563.0 M2578.0 116.0L2675.0 170.0 M2458.5 146.0L2604.0 183.0 M2218.5 374.5L2169.0 516.0 M1462.8 1054.0L1556.3 1049.0 M1876.6 1067.0L1909.5 1231.0 M2298.0 768.0L2227.0 912.7 M2465.3 773.6L2573.0 881.5 M2102.0 1057.4L2138.0 1145.0 M715.0 1418.5L970.8 1557.0 M1192.0 1646.0L1307.6 1711.6 M921.0 1988.4L743.2 2048.3 M1141.0 1988.4L1288.8 2029.6 M1061.2 2148.0L813.7 2187.4 M1033.2 2292.7L804.3 2396.3 M1399.8 2266.6L1391.7 2381.3 M1729.6 2182.3L1576.5 2326.3 M1676.9 2686.4L1554.4 2720.7 M1144.9 2744.6L1318.4 2785.4"/>
<path d="M1073.0 2918.0L957.0 3064.5 M1271.0 3003.0L1184.4 3064.0 M1355.3 3146.4L1212.4 3231.1 M618.4 3271.7L782.7 3211.2" stroke="#ed2536" stroke-width="3" fill="none"/>
<path d="M1456 3262.4L1623.2 3331.4" stroke="#2b2a28" stroke-width="2.8" fill="none"/>
</g>

<!-- 90_labels.svg -->
<g class="t">
<text x="1183.0" y="211.0" textLength="278.0" lengthAdjust="spacingAndGlyphs">S1076-ND</text>
<text x="1634.0" y="616.0" textLength="278.0" lengthAdjust="spacingAndGlyphs">S1025-ND</text>
<text x="2284.0" y="133.0" textLength="279.0" lengthAdjust="spacingAndGlyphs">S0084-ND</text>
<text x="2016.6" y="574.0" textLength="277.0" lengthAdjust="spacingAndGlyphs">S0084-ND</text>
<text x="2234.0" y="764.0" textLength="280.0" lengthAdjust="spacingAndGlyphs">S0084-ND</text>
<text x="1176.0" y="1084.0" textLength="280.0" lengthAdjust="spacingAndGlyphs">S0075-ND</text>
<text x="2003.0" y="1201.0" textLength="279.0" lengthAdjust="spacingAndGlyphs">S0085-ND</text>
<text x="1758.0" y="1291.0" textLength="279.0" lengthAdjust="spacingAndGlyphs">S0074-ND</text>
<text x="570.0" y="1402.0" textLength="283.0" lengthAdjust="spacingAndGlyphs">P0038-ND</text>
<text x="1172.0" y="1768.5" textLength="293.0" lengthAdjust="spacingAndGlyphs">S0335-ND</text>
<text x="1294.6" y="2055.5" textLength="279.4" lengthAdjust="spacingAndGlyphs">S0160-ND</text>
<text x="590.0" y="2106.5" textLength="279.0" lengthAdjust="spacingAndGlyphs">S0316-ND</text>
<text x="523.0" y="2215.0" textLength="279.0" lengthAdjust="spacingAndGlyphs">S0237-ND</text>
<text x="1605.7" y="2171.0" textLength="278.8" lengthAdjust="spacingAndGlyphs">S0003-ND</text>
<text x="1289.0" y="2248.5" textLength="279.5" lengthAdjust="spacingAndGlyphs">S0008-ND</text>
<text x="662.0" y="2456.5" textLength="279.5" lengthAdjust="spacingAndGlyphs">S0100-ND</text>
<text x="1686.8" y="2706.0" textLength="278.8" lengthAdjust="spacingAndGlyphs">S0084-ND</text>
<text x="1193.4" y="2839.5" textLength="277.9" lengthAdjust="spacingAndGlyphs">S0079-ND</text>
<text x="942.0" y="2909.4" textLength="279.8" lengthAdjust="spacingAndGlyphs">S0004-ND</text>
<text x="1136.0" y="2990.0" textLength="278.0" lengthAdjust="spacingAndGlyphs">S0009-ND</text>
<text x="1218.0" y="3129.8" textLength="280.5" lengthAdjust="spacingAndGlyphs">S0004-ND</text>
<text x="454.0" y="3327.0" textLength="279.0" lengthAdjust="spacingAndGlyphs">S0009-ND</text>
</g>
<text x="1484.5" y="3390" font-size="63.5" font-weight="bold" fill="#2b2a28" textLength="307" lengthAdjust="spacingAndGlyphs">A53-DN50</text>


</svg>
</body></html>
